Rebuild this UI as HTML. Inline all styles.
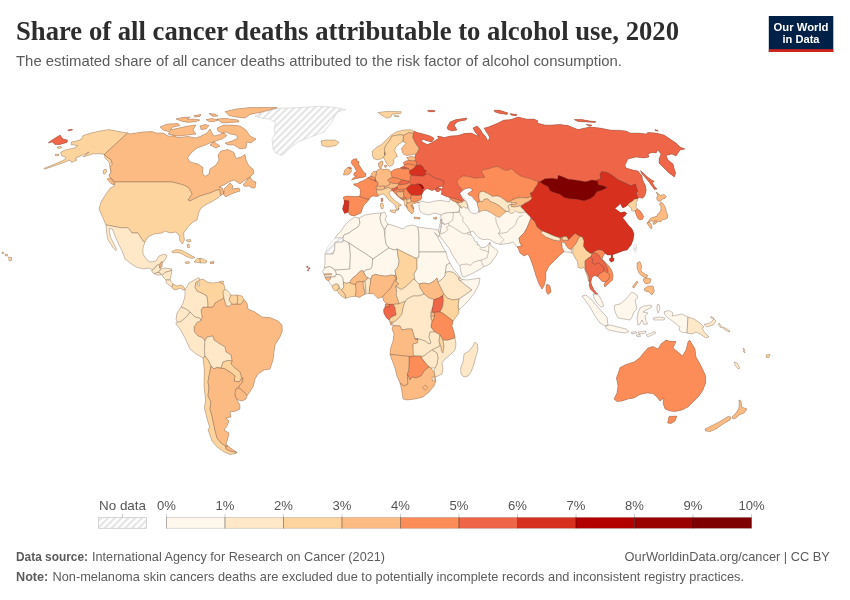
<!DOCTYPE html>
<html lang="en">
<head>
<meta charset="utf-8">
<title>Share of all cancer deaths attributable to alcohol use, 2020</title>
<style>
html,body{margin:0;padding:0;background:#fff;}
body{width:850px;height:600px;overflow:hidden;font-family:"Liberation Sans",sans-serif;}
svg{display:block;}
.title{font-family:"Liberation Serif",serif;font-weight:bold;font-size:26.6px;fill:#2d2d2d;}
.sub{font-family:"Liberation Sans",sans-serif;font-size:14.3px;fill:#5b5b5b;}
.logo{font-family:"Liberation Sans",sans-serif;font-weight:bold;font-size:11.5px;fill:#fff;text-anchor:middle;}
.lg{font-family:"Liberation Sans",sans-serif;font-size:13.1px;fill:#555;text-anchor:middle;}
.ft{font-family:"Liberation Sans",sans-serif;font-size:12.6px;fill:#5b5b5b;}
.b{font-weight:bold;}
.c{stroke:#5a4a42;stroke-width:0.45;stroke-linejoin:round;stroke-opacity:0.7;}
.n{stroke:#cfcfcf;stroke-width:0.6;stroke-linejoin:round;}
</style>
</head>
<body>
<svg width="850" height="600" viewBox="0 0 850 600">
<defs>
<pattern id="hatch" patternUnits="userSpaceOnUse" width="4.8" height="4.8" patternTransform="rotate(45)">
<rect width="4.8" height="4.8" fill="#fff"/>
<rect x="0" y="0" width="2.2" height="4.8" fill="#e4e4e4"/>
</pattern>
</defs>
<rect width="850" height="600" fill="#fff"/>
<text class="title" x="16" y="40" textLength="663" lengthAdjust="spacingAndGlyphs">Share of all cancer deaths attributable to alcohol use, 2020</text>
<text class="sub" x="16" y="65.8" textLength="606" lengthAdjust="spacingAndGlyphs">The estimated share of all cancer deaths attributed to the risk factor of alcohol consumption.</text>
<g id="logo">
<rect x="768.8" y="16" width="64.5" height="36" fill="#002147"/>
<rect x="768.8" y="49.2" width="64.5" height="2.8" fill="#ce261e"/>
<text class="logo" x="801" y="30.5" textLength="55" lengthAdjust="spacingAndGlyphs">Our World</text>
<text class="logo" x="801" y="43" textLength="37" lengthAdjust="spacingAndGlyphs">in Data</text>
</g>
<g id="map">
<g id="base">
<path fill="#ef6548" fill-rule="evenodd" d="M55,144.4 60,144.4 67,142.4 67.6,140 63,139 60,135 52,140 48,143 52.4,142Z"/>
<path fill="#ef6548" fill-rule="evenodd" d="M72.6,130 72,129.2 67.6,130 69,130.8Z"/>
<path fill="#fdd49e" fill-rule="evenodd" d="M115.4,183.6 115.9,183.3 114.4,166.8 113.2,163.7 111.7,159.1 107.5,156.4 105.6,154.4 128.4,133.3 127.6,133 119,131.6 109,129.6 100,131 91,133 83,135.6 81.6,139 78,140.6 71.6,142 71,144.4 77.2,145.5 77.3,145.8 74.4,148 65,150 60.6,152.4 61.6,155.6 66,157.6 65,159.4 60,161.8 44,168.4 44.4,169.2 54,166 64,162.4 70,160 71.6,162.4 77,160 75,158.4 84.8,154.1 85.4,155 83,157 92.4,154 99,153.6 104.4,154.4 105,158 109,162 111,172 109,176 110.8,177.8 109.9,178Z"/>
<path fill="#fdd49e" fill-rule="evenodd" d="M61,146.4 57,147 58,148.4 61.6,148Z"/>
<path fill="#fdd49e" fill-rule="evenodd" d="M59,154 55,154.4 55.6,155.8 59,155.4Z"/>
<path fill="#fdd49e" fill-rule="evenodd" d="M103,173 104.4,174.4 107,171 106,169 103.6,170Z"/>
<path fill="#fdbb84" fill-rule="evenodd" d="M110.3,160.1 111.5,163.8 109.8,166 111,172 109,176 110.8,177.8 109.9,178 114.7,182.8 171.9,182.8 179.8,184.8 184.7,186.3 188.4,188.6 191.1,193.9 186.8,200.3 190,201.9 200.3,196.7 210.3,193.8 216.2,191.2 218.9,190.6 219.7,196.3 220.4,195.6 223.5,193.9 225.6,197 229,195 234,193 240,191 239,188 232,189 233,186 230,183 224,189 224,190.3 222.9,190.4 222.4,188 219.8,187.2 219.7,186.7 224,185 229,182 234,180 240,184 245,180 246.6,179 247.2,179.6 250.5,177.6 250,177 254,173 253,169 249,166 246,160 245,154.4 241,157 236,158.4 234,152.4 228,149.6 221,151 218,155 219,160 216,165 210,169 209,174 205,176.4 202.4,173 203,167.6 198,164 190,162 187.6,158 191,153 197,148 204,145.6 210,143 211.9,142.4 212.3,143.1 214.5,142.3 213.8,141.9 213.9,141.7 222,139 227,135.6 223.7,132.7 224.5,132.4 224.2,132.1 221.8,132.9 222.4,133.2 222.4,133.5 218,135 214,136 212,133 210,129 207,133 201,136 196,138 188,136.4 179,137.6 175.8,136.8 176,136 173.1,135.2 172.3,135.2 172.3,136 168,136 163,133 156,133 152,131.6 142,132 130,134 127.6,133 126.6,132.8 103.4,154.2 104.4,154.4 104.6,155.8 106.5,157.6Z"/>
<path fill="#fdbb84" fill-rule="evenodd" d="M172.3,135.7 175.9,136.3 176.1,135.5 179,136 196,134 193,130 196,125 188,126 171.1,129.8 170.8,129.2 173,127 180,125.6 178,123.6 167,124 160,127 163,130 170,132 168,134 172.4,134.9Z"/>
<path fill="#fdbb84" fill-rule="evenodd" d="M188,122.4 196,121.6 200,120 194,119 188.1,119 187.9,118.4 190,117 182,117.6 176,119 181,121Z"/>
<path fill="#fdbb84" fill-rule="evenodd" d="M201,114.4 194,115.6 195,117 200,116.4Z"/>
<path fill="#fdbb84" fill-rule="evenodd" d="M218,116 215,114 209,113.6 213,116.4Z"/>
<path fill="#fdbb84" fill-rule="evenodd" d="M219.6,120.2 219.6,119.6 217.3,119 216.2,119.1 216.1,119.5 212,118.4 206,119.6 209,121.6 214,121.6 218.2,119.9 218.9,120.5Z"/>
<path fill="#fdbb84" fill-rule="evenodd" d="M259.9,113.2 270.2,110.8 277.8,108.2 277.7,107.6 250,107.6 236,109 225,111.6 229,115.6 236,117 245,118 250,114.4 259.6,112.5Z"/>
<path fill="#fdbb84" fill-rule="evenodd" d="M217.3,120.3 218.2,119.9 222,123 230,122.4 239,122 238,120 225,118.4 216.2,119.1 216.2,119.4Z"/>
<path fill="#fdbb84" fill-rule="evenodd" d="M201,129.6 206,129 209,125.6 205,124.4 200,126Z"/>
<path fill="#fdbb84" fill-rule="evenodd" d="M221.9,133.8 224.3,133.3 223.7,132.6 226,132 230,134 236,135 238,138 232,141 225,143 228,145 234,145 240,149 246,148 247,142 251,143 256,139 250,136 246,130 240,126 232,125 224,125 217,128 218,131 222.4,133.2 222.4,133.5 221.7,133.8Z"/>
<path fill="#fdbb84" fill-rule="evenodd" d="M214,141 212,142.5 212.4,143.2 210,145 216,148 220,146 213.8,141.9 213.9,141.7 214.6,141.5Z"/>
<path fill="#fdbb84" fill-rule="evenodd" d="M250.1,175.8 246.7,179.1 247.2,179.7 243,185 245,186.4 249,186 252,188 255,188 256,182 253,181 250,177 250.6,176.4Z"/>
<path fill="#fdbb84" fill-rule="evenodd" d="M114.9,186.3 114.9,185.7 114.3,186ZM114.4,181.6 110.2,177.1 110.1,177.1 110.8,177.8 107,179 111,183.6 114.9,185.4Z"/>
<path fill="#fdd49e" fill-rule="evenodd" d="M113.8,184.9 115,185.5 115,185.7 110.4,188 106,194 101,202 99,209 106,225 106.1,225.8 121.9,228.8 127.6,228.4 131.6,233.8 137.6,233.8 142.4,241.6 144.7,242.8 145,242 148,237 154,234 162,233 165,231 170,233 176,232 179,235 180,241 182.4,244 184.4,240 183.6,233 188,227 193,222 197,220 199,212 201,208 207,204 212,201.6 218,198 220.4,195.6 221.2,195.2 220.3,188.6 215.8,189.6 209.7,192.2 199.7,195.3 190,200.1 189.2,199.7 192.9,194.1 189.6,187.4 185.3,184.9 180.2,183.2 172.1,181.2 114.3,181.2Z"/>
<path fill="#fee8c8" fill-rule="evenodd" d="M155.6,268.6 157.4,265.8 160.3,265.8 162.2,263.9 162.3,262.7 165,260 167,255.6 164,254 159,256 156,261 150,262 146,259 143,254 143,248 145,242 145.4,241.3 143.6,240.4 138.4,232.2 132.4,232.2 128.4,226.8 122.1,227.2 105.6,224.1 106,225 106.8,234 107.6,239 113.6,248.4 116,250.6 116.6,249.2 110.4,237 109.4,230 109.6,228.4 112.4,229 115.2,236.4 118.4,243.6 122,251 125,259 130,263 136,267 143,269 149,268 152,270 152,271Z"/>
<path fill="#fee8c8" fill-rule="evenodd" d="M158.4,273.1 162.2,268.9 162,268.7 161,269 159.6,268 160.5,267.6 160.9,264.2 156.6,264.2 154.4,267.4 151.3,269.5 152,270 152,272 154,273.6 155.1,274.1Z"/>
<path fill="#fdbb84" fill-rule="evenodd" d="M159.2,264.9 158.6,269.3 160.4,268.5 159.6,268 162,267 162.3,262.7 163.2,261.8 163.3,260.3 159.2,262.5Z"/>
<path fill="#fee8c8" fill-rule="evenodd" d="M156.6,272.8 159.6,273.7 161.2,275 162.4,275 162.7,275.9 165.4,273.1 170.4,271.7 172,270.2 172.2,269 165,268 161,269 160.3,268.5Z"/>
<path fill="#fee8c8" fill-rule="evenodd" d="M160.6,272.3 158,271.6 153.2,273 154,273.6 157,275 161.9,275Z"/>
<path fill="#fee8c8" fill-rule="evenodd" d="M161.6,275 162.4,275 163,277 166,280 166,280.8 170.6,280.8 170,280 171,276 172.2,269 169.7,270.3 164.6,271.7 161.5,274.8Z"/>
<path fill="#fee8c8" fill-rule="evenodd" d="M173.7,284.4 173,284 170,280 170.2,279.2 165.2,279.2 166,280 166,282.4 169,285 172,287 172.5,288Z"/>
<path fill="#fdd49e" fill-rule="evenodd" d="M186.1,290.8 185.5,289.1 185.2,289.7 184.9,289.7 184,287 181,285 177,286 173,284 172.4,283.2 171.3,286.5 172,287 173,289 175,290 181,288 183,290 185,290 185,290.8Z"/>
<path fill="#fdd49e" fill-rule="evenodd" d="M171.6,251.6 173,253 178,252.4 183,254.4 187,257 192,258.4 195,257.6 187,253 181,250 176,249.6Z"/>
<path fill="#fdd49e" fill-rule="evenodd" d="M200.8,258.4 197,258.4 194,262 198,262.4 200.4,263 201.2,263Z"/>
<path fill="#fdd49e" fill-rule="evenodd" d="M199.6,262.8 200.4,263 206,263 207,261 202,258.4 199.2,258.4Z"/>
<path fill="#fdd49e" fill-rule="evenodd" d="M189.6,263.2 189,261.6 185,262 186,263.6Z"/>
<path fill="#fdbb84" fill-rule="evenodd" d="M214,261.6 210,262 210.4,263.4 213.6,263.4Z"/>
<path fill="#fdd49e" fill-rule="evenodd" d="M11.5,260.5 11.5,257.5 8.5,257 9,260.5Z"/>
<path fill="#fdd49e" fill-rule="evenodd" d="M7.5,256 7.5,254.5 5,254 5.5,256Z"/>
<path fill="#fdd49e" fill-rule="evenodd" d="M3.5,253.5 3.5,252.5 2,252 2,253.5Z"/>
<path fill="#fdd49e" fill-rule="evenodd" d="M191,241.5 190.5,239.5 186,240 188,242Z"/>
<path fill="#fdd49e" fill-rule="evenodd" d="M189,244 187,244.5 187.5,247.5 189.5,247.5Z"/>
<path fill="#fdd49e" fill-rule="evenodd" d="M219.4,284.8 223.7,284.6 223.7,284.3 223,283.9 223.5,281 219.5,281.5 219.6,281.9 218.8,282Z"/>
<path fill="#fdbb84" fill-rule="evenodd" d="M196.4,321.8 193.2,326.8 193.6,332.3 197.5,336.7 202.5,338.7 205.1,342.6 207.5,337.7 212.4,336.9 213.3,340.5 219.6,344.7 224.3,347.5 225.3,352.5 230.3,355.5 231.2,360.9 230.1,364.2 234.5,368.6 239.3,372.5 241,378.8 242.1,378.8 241.6,381.7 238.2,385.7 238.2,388.4 243.4,392.6 246.7,396.5 247,395.6 249,393 253,387 254.4,382 255,379 258,374 264,370 270,369 273,360 275,345 280,337 282.4,331 282,325 278,321 270,317.6 262,317 255,312 248,309 247,303 244,299.6 243.6,298.8 240.6,303.2 231.7,303.2 228.8,305.5 226.7,304.9 224.5,296.8 219.6,299.3 214.4,302.4 212.5,306.2 202.6,306.2 200.2,309.8 201.2,316.9 200.3,319.8Z"/>
<path fill="#fee8c8" fill-rule="evenodd" d="M184.2,290 185,290 185,296 183,303 180.5,307.7 185.6,309.7 189.5,312.6 194.6,317.7 199.1,318.7 201,322 201.4,322 202.8,317.1 201.8,310.2 203.4,307.8 208.8,307.8 208.8,304 207.7,295.5 203.4,292.9 197.6,290.4 195.8,286.9 196.7,282.9 201,280.3 200.8,279.7 200,280 199,277.6 195,279.6 189,283 185.2,289.7 184.9,289.7 184.7,289Z"/>
<path fill="#fdd49e" fill-rule="evenodd" d="M194.2,287.1 196.4,291.6 202.6,294.3 206.3,296.5 207.2,304 207.2,307.8 213.5,307.8 215.6,303.6 220.4,300.7 224.9,298.5 223.8,292.2 225.7,289.4 225,289 224,284.4 223,283.9 223.1,283.1 219.7,281.5 219.5,281.5 219.6,281.9 214,283 208,282.4 203,279 200,280 199.7,279.3 195.3,281.9ZM199.3,282.8 199.8,285.5 198.2,286 197.5,283.2Z"/>
<path fill="#fee8c8" fill-rule="evenodd" d="M222.2,291.8 223.2,298.2 225.3,306.3 229.2,307.3 233.1,304.1 229.9,299.9 231.9,295 231,295 228,291 225,289 224.8,287.9Z"/>
<path fill="#fdd49e" fill-rule="evenodd" d="M228.1,300.1 231.6,304.8 237.7,304.8 238.8,299 237.9,295.2 237,295 231,295 230.4,294.3Z"/>
<path fill="#fdd49e" fill-rule="evenodd" d="M237.2,299 236,304.8 241.4,304.8 244.5,300.2 244,299.6 242,296 237,295 236.2,295Z"/>
<path fill="#fee8c8" fill-rule="evenodd" d="M177.7,323.3 181.4,322.3 184.5,319.6 188.6,315.5 191.1,311.8 186.4,308.3 181.4,306.3 177,313 176,320 177.8,322.1 176.8,322.3Z"/>
<path fill="#fee8c8" fill-rule="evenodd" d="M203.1,359 205.8,356.3 205.2,350 205.8,340.8 203.5,337.3 198.5,335.3 195.2,331.7 194.8,327.2 197.6,323 202.1,320.7 200.1,317.3 195.4,316.3 189.9,310.7 187.4,314.5 183.5,318.4 180.6,320.8 177.2,321.4 177.7,322.1 176,322.4 176,324 180,329 185,338 190,349 196,354 203,358Z"/>
<path fill="#fee8c8" fill-rule="evenodd" d="M203.6,350 204.2,356.3 207.3,360.4 210.3,366.5 213.9,370 217.1,367.9 221.5,369 223.6,362.6 228.1,361.2 233,362 231.7,354.5 226.7,351.5 225.7,346.5 220.4,343.3 214.7,339.5 213.6,335.1 206.5,336.3 204.2,340.8Z"/>
<path fill="#fdd49e" fill-rule="evenodd" d="M219.9,369.2 223.8,369.2 229.5,372.7 234.1,376.3 233.1,381.6 239.4,382.9 242.5,378.1 240.7,371.5 235.5,367.4 231.9,363.8 233.1,360.4 227.9,359.6 222.4,361.4Z"/>
<path fill="#fdd49e" fill-rule="evenodd" d="M230.3,450.2 226.7,448.4 225.7,445.1 221.5,442.4 217.7,437.6 215.8,429.8 212.8,415.8 210.8,408.9 211.8,401.9 208.8,395.9 209.8,388 208.8,382 209.8,376.1 211.8,365.9 208.7,359.6 205.1,354.8 202.3,357.6 203,358 204.4,370 204,386 205.6,400 204.4,408 208,422 209.6,427 208,430 209.6,434 212,441 217,447 224,452 230,454.4 236,453.6 237,452.4 235.3,451.2Z"/>
<path fill="#fdbb84" fill-rule="evenodd" d="M208.2,375.9 207.2,382 208.2,388 207.2,396.1 210.2,402.1 209.2,409.1 211.2,416.2 214.2,430.2 216.3,438.4 220.5,443.6 224.7,446.4 228.9,446.9 226,444 228,438 229,433 224,430 227,426 229,421 226.1,418.1 231,417 230,412 236,411 240,409 240,405 237.1,400.1 237.3,399.8 237.9,400 235.8,394.9 236.7,389.4 239.6,386.5 243.2,382.3 244,376.7 243.4,376.4 238.7,381.1 234.9,380.4 235.9,375.7 230.5,371.3 224.2,367.6 221.1,367.6 216.9,366.8 214.2,368 210.6,364.5Z"/>
<path fill="#fdbb84" fill-rule="evenodd" d="M225.2,449.5 229.7,451.8 236.4,453.1 237,452.4 228.5,446.6 227.7,445.7 225.2,444.9Z"/>
<path fill="#fdbb84" fill-rule="evenodd" d="M234.2,393 234.8,397.3 237.1,400.1 237.3,399.8 242,401 246,399 247,395.6 247.5,395 244.6,391.4 239.2,387.1 235.3,388.4Z"/>
<path fill="#fdd49e" fill-rule="evenodd" d="M339,142.4 335,140 326,140 321,141 322,145.6 328,147 336,145.6Z"/>
<path fill="#fff7ec" fill-rule="evenodd" d="M343.6,238.8 344.6,235.6 349.4,233.7 353.4,230.7 358.6,227.6 360.8,223.1 359.7,217.6 359,218 355,217 350,220 345,225 341,231 337,235 334.4,238.8Z"/>
<path fill="#fff7ec" fill-rule="evenodd" d="M359.2,222.9 357.4,226.4 352.6,229.3 348.6,232.3 343.4,234.4 342.2,237.9 342.2,240.5 348.6,243.7 357.6,249.7 365.6,254.7 373,260 390.1,248.2 386.8,243.7 384.8,228.8 381.8,222.7 380.8,218 381.8,212.9 373,213.6 365,215 359,218 358.1,217.8Z"/>
<path fill="#fff7ec" fill-rule="evenodd" d="M379.2,218 380.2,223.3 383.5,229.8 385.5,229.8 388.8,224.2 388,224 385,220 386.6,216 385,212.4 380.2,213.1Z"/>
<path fill="#fff7ec" fill-rule="evenodd" d="M384.2,237.1 385.2,244.3 388.5,248.7 394,250.9 396.9,249.9 414.9,258.8 419.8,257.6 419.8,236 418.8,227.1 418,227 413,225 407,226 403,229 395,226 388,224 387.5,223.3 384.2,228.8Z"/>
<path fill="#fff7ec" fill-rule="evenodd" d="M418.2,236 418.2,252.8 446.2,252.8 446,252 443,247.5 437.3,236.5 437.9,236 439,236.8 439.2,235.8 439.4,235.8 439.9,236.4 440.4,233.7 439,229.5 438.7,229.4 438.5,230.2 433,229 418,227 417.2,226.7Z"/>
<path fill="#fff7ec" fill-rule="evenodd" d="M329.1,267.4 332.9,269.2 335.4,270.9 350.6,269.8 351.2,255 350.8,249.9 349.7,242.5 342.2,238.7 342.2,241.2 334.2,241.6 333.8,249.8 332.5,253.2 325.3,253.2 325,254 325,262 324.5,267.9 324,268.9Z"/>
<path fill="#fff7ec" fill-rule="evenodd" d="M349.2,250.1 349.6,255 349,268.4 334.8,269.4 334.8,271.6 335.5,275.1 340,275.7 341.9,278.2 342.5,282.2 342.5,283.3 346.8,284 350.3,283.3 351.6,280.7 353.8,278 357.3,275.6 359.7,272.7 361.6,271.4 364.9,272.5 365.6,271 370.9,269.8 372.9,267.1 373.5,259.7 374.6,259.3 374.6,259.2 366.4,253.3 358.4,248.3 348.3,241.6 348,241.7Z"/>
<path fill="#fff7ec" fill-rule="evenodd" d="M371.9,258.5 371.3,266.5 369.9,268.4 364.6,269.6 363,272.6 365,276.7 367.6,278.6 371.4,280.2 372.7,276.2 375.6,275.2 380.3,276.4 386.3,277 390.9,275.8 394.8,276.5 396.4,274.7 395.9,270.5 398.7,267.2 400,260.9 398.8,255.8 397.7,247.9 394,249.1 388.9,247.1 372.6,258.3Z"/>
<path fill="#fdd49e" fill-rule="evenodd" d="M397.2,256.2 398.4,260.9 397.3,266.4 394.3,270.1 394.8,274.6 396,278.5 394.6,281.8 397.3,283.8 394.2,286.3 401.5,290.7 406.7,286.8 411.5,282.7 413.5,280.1 415.9,281.4 416,281.2 414.8,274.2 417.8,269.2 417.8,258.5 396.1,247.7Z"/>
<path fill="#fff7ec" fill-rule="evenodd" d="M418.2,256.7 416.2,258.7 416.2,268.8 413.2,273.8 414.3,280.4 418.7,284.9 424,283.8 429.1,284.8 434.5,281.6 436.6,279.6 437.5,283.3 441.5,280.6 445.8,276.4 447.2,265.5 450.4,263.7 447.5,258 446,252 445.5,251.2 418.2,251.2Z"/>
<path fill="#fdbb84" fill-rule="evenodd" d="M419.3,288.3 423.4,294.5 428.6,298.7 434,300.4 439.4,298.7 445,294.2 438.8,281.7 437.4,276.5 433.5,280.4 428.9,283.2 424,282.2 418,283.4Z"/>
<path fill="#fee8c8" fill-rule="evenodd" d="M444.2,275.6 440.5,279.4 437,281.7 443.3,294.4 446.5,298.7 452.9,300.8 459.3,299.8 465.5,295.7 473.3,290 459.8,279.6 459.8,277.7 456.6,273.9 453.3,271.2 449,270.7 444.8,271.3Z"/>
<path fill="#fff7ec" fill-rule="evenodd" d="M445.8,264.5 444.6,272.9 449,272.3 452.7,272.8 455.4,275.1 458.6,278.8 461.3,278.8 460.5,278 458.5,275 455,271 452,267 449.6,262.3Z"/>
<path fill="#fee8c8" fill-rule="evenodd" d="M458.2,280.4 460.6,282 463,279.6 462,279.5 460.5,278 460,277.2 458.2,277.2Z"/>
<path fill="#fff7ec" fill-rule="evenodd" d="M470.7,290 464.5,294.3 458.3,298.5 457.2,304 458.4,311.5 458.8,311.4 458.6,310.4 469,300 475,292 479,284 480,278 467,280 462,279.5 461.4,278.9 459.3,281.1Z"/>
<path fill="#fff7ec" fill-rule="evenodd" d="M330.9,277.6 335.6,277.6 337,274.5 336.3,271.2 333.8,267.9 329.3,265.6 324.6,267 324.5,267.9 322.7,271.5 325.3,277.9Z"/>
<path fill="#fdbb84" fill-rule="evenodd" d="M323.7,273.9 324.6,276 333,275.5 332.1,272.8 323.7,273Z"/>
<path fill="#fdbb84" fill-rule="evenodd" d="M331.1,279.5 331.9,276.1 324.9,276.6 326.2,279.7 328.6,280.9 329,281.6Z"/>
<path fill="#fff7ec" fill-rule="evenodd" d="M334.3,285.7 336.2,284.7 337.9,285.6 339.1,288.9 341.6,291.6 344.7,287 343.5,277.6 340.8,274.3 335.7,273.5 334.6,276 330.3,276.2 329.7,278.7 327.8,280.5 328.6,280.9 329.8,283.2 332.1,286.2 332.3,287Z"/>
<path fill="#fdd49e" fill-rule="evenodd" d="M337.7,291 340.1,288.1 339.3,284.5 336.2,282.9 333.5,284.3 331.6,285.6 332.1,286.2 332.7,288.5 335.1,290.9 337.4,290.3Z"/>
<path fill="#fdd49e" fill-rule="evenodd" d="M336.6,290.5 337.4,290.3 338.6,293.2 341.5,296.2 345.6,298.5 345.6,298.3 346.4,298.1 346.4,295.4 344.5,292.1 339.1,286.7 336.5,290.2Z"/>
<path fill="#fdd49e" fill-rule="evenodd" d="M340.5,290.4 343.3,293.1 344.8,295.8 344.8,298.1 345.6,298.5 345.6,298.3 350.9,296.8 355.6,296.2 356.4,296.5 357,290.3 356.3,283.7 352.4,283 349.9,281.8 346.8,282.4 342.4,281.6 343.1,286.6Z"/>
<path fill="#fdbb84" fill-rule="evenodd" d="M348.7,283 351.8,284.6 356,285.3 357.3,282.9 363.6,282.3 366.7,280.3 369.2,277.8 366.2,275.7 364.6,272.1 361.6,269.5 358.7,271.5 356.3,274.4 352.8,276.8 350.2,279.9Z"/>
<path fill="#fdbb84" fill-rule="evenodd" d="M355.4,290.3 354.8,296.3 355.6,296.2 359.2,297.4 364.5,294.4 365.3,294.1 365.3,290.2 364.1,285.5 364.1,280.6 356.3,281.3 354.8,284.2Z"/>
<path fill="#fee8c8" fill-rule="evenodd" d="M362.5,285.7 363.7,290.4 363.7,294.9 366.2,293.8 367,293.7 365.8,280.7 362.5,280.7Z"/>
<path fill="#fee8c8" fill-rule="evenodd" d="M365.4,294.1 366.2,293.8 370,293.6 370.3,288.6 371.2,283.9 371.8,278.6 367.8,277 365.6,279.2 364.3,281.3Z"/>
<path fill="#fdbb84" fill-rule="evenodd" d="M369.6,283.7 368.7,288.4 368.4,293.7 373.3,293.6 378,298.5 382.7,296.8 382.8,297.6 383.2,297.5 385.7,294.3 391.6,288.4 394,283.6 397.1,278.5 395,274.9 390.9,274.2 386.1,275.4 380.5,274.8 375.6,273.6 371.5,275 370.1,278.9Z"/>
<path fill="#fdbb84" fill-rule="evenodd" d="M395.3,278.5 392.6,282.8 390.2,287.4 384.5,293.3 381.9,296.6 381.9,297.1 382.7,296.8 383.3,300.3 386.4,304.3 389.4,305.2 393.3,305.2 400.2,304.5 398.8,299.4 397,294.9 397.6,290.2 396.5,286.5 399.9,283.8 396.6,281.2 397.6,278.5 395.9,272.8 393.5,275.5Z"/>
<path fill="#fee8c8" fill-rule="evenodd" d="M395.4,295.1 397.2,300 398.7,304.9 403,302.9 406.1,302.2 407.6,299.6 413.2,296.8 419.2,296.8 425.2,294.4 420.7,287.7 419.7,283.6 415.5,279.3 413.1,278.1 410.3,281.5 405.7,285.6 401.5,288.7 394.8,284.8 394.4,285.1 396,290.4Z"/>
<path fill="#fc8d59" fill-rule="evenodd" d="M389.9,307.6 390.4,303.6 385.9,303.6 386.4,304.2 386.3,304.4 385.1,304.4 385.1,307 384.6,307.8Z"/>
<path fill="#ef6548" fill-rule="evenodd" d="M391.5,318 397.1,315.5 395.9,307.1 393.8,303.6 388.8,303.6 388.5,306 385.1,306.2 385.1,307 383.6,309.7 383.9,313.2 386.2,317.4 389.2,320.3 389.6,321.2Z"/>
<path fill="#fdd49e" fill-rule="evenodd" d="M394.3,307.7 395.3,314.5 390.3,316.8 388.6,319.7 389.2,320.3 390,322 390.1,322.8 394.3,322.8 398.6,319.6 402.8,314.3 403.8,308.2 405.7,302.5 407.2,301.2 406.9,300.4 402.4,301.3 399,303 392,303.7Z"/>
<path fill="#fee8c8" fill-rule="evenodd" d="M404.3,301.6 402.2,307.8 401.2,313.7 397.4,318.4 393.6,321.3 391,322.6 391.6,324.3 391.8,323.9 392.3,323.8 393,325.6 392.8,326.4 399.5,326.8 401.6,330.9 407.1,329.8 411.4,329.8 412.2,333.2 414.4,339.8 418.9,339.8 424.6,341.7 428.9,344.9 432,343.4 429.8,336.9 430.7,332.8 436.4,332.8 436.5,332.6 431.9,326.8 432.8,322 431.4,316.9 431.8,312.2 433.8,306.2 434.9,299 429.4,297.3 424.1,293.1 418.8,295.2 412.8,295.2 406.4,298.4 405,300.9Z"/>
<path fill="#ef6548" fill-rule="evenodd" d="M431.1,313.2 440.5,312.8 443.4,307.2 444.2,301 443.7,294.2 438.7,297.3 433.3,299Z"/>
<path fill="#fdd49e" fill-rule="evenodd" d="M441.8,306.8 438.9,312.4 442.2,313.7 452.8,321.9 453,321 459,313 458.6,310.4 459.3,309.7 458.8,306 459.9,298 453.1,299.2 447.5,297.3 443.9,292.6 442.2,295.4 442.6,301Z"/>
<path fill="#fdbb84" fill-rule="evenodd" d="M430.7,317.3 435.5,316.7 434.7,311.6 430.1,311.6Z"/>
<path fill="#fdd49e" fill-rule="evenodd" d="M430.8,320.8 434,320.8 435.7,315.1 430.6,315.7Z"/>
<path fill="#fc8d59" fill-rule="evenodd" d="M433.8,315.9 432.7,319.6 431.2,321.7 430.1,327.2 434.5,332.6 439.4,335.6 442.5,340.8 447.1,341.2 455.1,338.8 454,332 452,326 453,321 453.5,320.4 443,312.3 440.1,311.2 433.1,311.7Z"/>
<path fill="#fdbb84" fill-rule="evenodd" d="M390.3,355.2 409,357.2 416.5,356.7 416.6,356.1 414.2,354.5 413.8,344.6 418.1,343.7 418.9,338.2 415.6,338.2 413.8,332.8 412.6,328.2 406.9,328.2 402.4,329.1 400.5,325.2 392.7,324.8 393,325.6 392,329 394,334 393,341 390.6,348 390,354.4Z"/>
<path fill="#fdbb84" fill-rule="evenodd" d="M392.9,322.6 389.4,320.8 390,322 390.2,324.4 391.4,325.2 391.8,323.9 392.3,323.8 392.5,324.3Z"/>
<path fill="#fee8c8" fill-rule="evenodd" d="M412.2,343.4 412.6,355.5 414.8,356.8 424.3,356.8 429.5,352.6 432.4,350.7 440.9,346.4 439.8,341 440.9,334.6 435.2,331.2 429.3,331.2 428.2,337.1 430,342.6 429.1,343.1 425.4,340.3 419.1,338.2 415,338.2 414.6,338.3 414.2,338.8 414.2,339.2 414.5,339.6 414.9,339.8 417.1,339.8 416.7,342.3Z"/>
<path fill="#fdd49e" fill-rule="evenodd" d="M438.2,341.1 440.2,347.2 440.6,351.3 443.2,354.6 443.6,354.5 444.8,346 443.8,339.7 440,333.4 439.4,333.5Z"/>
<path fill="#fee8c8" fill-rule="evenodd" d="M442,339.1 443.2,346 442.5,351.1 442.2,350.7 441.8,346.6 440.2,345 430.4,349.9 436.3,353.5 437.2,358 436.2,363.7 434.2,368 435,368 434.1,371.8 433.8,371.8 433.4,371.2 433.2,372 434.4,378 435.2,377.8 435,377 438,376 442,374 443,369 442,363 445,359 450,355 455,350 456,344 454.9,337.2 446.9,339.6Z"/>
<path fill="#fee8c8" fill-rule="evenodd" d="M419.8,356.6 422.4,360.5 426.4,365.6 430.7,368.8 431.6,368.8 431.1,368.1 431.2,368 435,368 434.8,368.8 435.5,368.8 437.8,364.3 438.8,358 437.7,352.5 432,349.1 428.5,351.4 423.6,355.3Z"/>
<path fill="#fc8d59" fill-rule="evenodd" d="M408.2,364 407.8,369.9 406.5,374 409.8,381.6 412.4,377.9 416.1,378.8 421.5,376.7 425.6,370.6 430.2,367.1 427.6,364.5 423.6,359.5 421.5,356.4 419.2,355.2 414.9,355.2 411,356.2 408.2,355.3Z"/>
<path fill="#fdbb84" fill-rule="evenodd" d="M403.9,386.9 408.8,384.5 408.2,374.1 409.4,370.1 409.8,364 409.8,355.7 390.1,353.6 390,354.4 395,368 397,376 400,383 400.3,384.2Z"/>
<path fill="#fdbb84" fill-rule="evenodd" d="M434.7,371.7 434.2,371 434.1,371.8 433.8,371.8 431.1,368.1 431.2,368 432,368 431.5,367.4 428.9,366.1 424.4,369.4 420.5,375.3 415.9,377.2 411.6,376.1 410.1,378.3 407.5,372.3 406.5,372.6 407.2,383.5 404.1,385.1 399.4,381.5 400,383 401,387 402,392 403,399 407,400 415,399 423,397 429,392 434,386 436,381 435,377 435.8,376.7Z"/>
<path fill="#fdbb84" fill-rule="evenodd" d="M421.3,388.1 425.5,391.5 429.1,387.3 424.9,383.9Z"/>
<path fill="#fee8c8" fill-rule="evenodd" d="M431.9,381.8 435.7,381.8 435.8,381.4 435.7,379.7 435,377 435.4,376.9 435.3,376.2 431.1,376.2Z"/>
<path fill="#fee8c8" fill-rule="evenodd" d="M476,356 478,350 477.4,344 475,342 473,346 469,351 464,354 463,362 460.6,368 461,374 464,377 468,376 471,372 474,364Z"/>
<path fill="#ef6548" fill-rule="evenodd" d="M308.8,268.2 308.8,267.8 308.6,267.8 308.6,268.2ZM308,266.3 306.8,266.3 306.8,267.4 308,267.4Z"/>
<path fill="#ef6548" fill-rule="evenodd" d="M307.8,267.4 308,267.4 308,267 307.8,267ZM308.7,269.7 308.7,268.9 309.8,268.9 309.8,267.8 308.6,267.8Z"/>
<path fill="#ef6548" fill-rule="evenodd" d="M308.6,269 308.6,269.8 307.5,269.8 307.5,270.8 308.7,270.8Z"/>
<path fill="#fff7ec" fill-rule="evenodd" d="M440.1,214.7 440.9,215 440.9,218.5 440.3,223.2 438.5,230.2 437.7,230.1 437.7,230.3 438.9,234 439.1,236.1 439.2,235.8 439.4,235.8 449.6,249 451.6,253.5 457.2,262.5 460,266 460.5,270 461.5,274 462.5,276.5 464,277 469,275 475,272 480.5,269 483.5,266.5 487,265.5 491,263 493.5,259 496,256 498,251.5 495,248.5 491,246 490,242.5 489.7,242.4 487.4,245.6 484.4,247.5 480.3,247.2 478.9,244.6 477.2,244.9 477.2,241.8 475.1,241.8 473.5,238.3 470.9,234.6 470.3,232.1 472.9,231 478.2,237.4 482.6,239.7 487.4,239.2 490.5,240.1 495.6,243.2 500.3,244.4 501.5,244.4 509.7,243.2 513,242 517.7,247.7 523.3,246.6 520.8,242.7 519.9,238.3 524.6,233.5 527.7,228.4 531.9,218 529.6,212.5 524.2,209.2 519.2,209.5 514.4,208.3 509.5,209.5 500.1,213 495.8,213 491.2,210.8 483.9,208.3 478.7,209.2 479,209.9 478.7,210 478.2,212.4 475.3,213.9 471.8,212.9 469.4,211.2 468.7,208.9 466.8,207.8 467.6,207.4 466.6,206.7 464.1,205.4 460.1,204.8 457.6,206.4 458.3,210.2 457.4,211.7 453.2,211.3 446.1,211.8 441.8,213.1 440.1,213.9Z"/>
<path fill="#ef6548" fill-rule="evenodd" d="M412.5,133.1 411.8,137.6 414,142.2 416.1,145.7 418,148.3 417.7,149.7 415,154.2 415.7,154.1 415,157 414.2,157 414.7,160.7 415.7,164.1 415.7,166.4 419.8,165.8 421.9,167.1 423.4,170.1 425.2,171.2 424.1,172.3 424.9,175.4 428.8,174.7 431,176.7 435.7,179.3 439.7,180.3 442.8,181.6 443.1,183.7 441,185.8 441.2,186.3 442,186 442.8,187.8 441,189.5 442,192 441,194 445,196 449.5,197.5 450.2,198.5 456.8,200.3 460.7,201.7 463,202.9 465.5,201.6 464.7,200.6 462,198 460,193.5 460.1,193.3 460,193 461.8,191.2 465.3,188.8 468.8,188 471.3,188.7 510,184.8 539,184.8 570,186.8 597.6,184.7 597.6,183.8 597.8,183.8 597.8,180.6 601.9,179.6 600.9,174.2 602.3,172.5 607.7,173.8 612.5,176.7 617.6,180.7 624.7,183.7 631,186.9 635,185.2 636.7,191 635.1,193.2 636.3,196.2 637,199.5 637.3,199.4 637.1,198.6 639.8,197.6 642.5,198.2 644.7,196 646.3,190.6 645.2,185.2 642.5,179.7 641.9,174.9 641.4,175.2 638,171 633,170 626,168 625,165 628,159 636,157 644,158 649,157 648,154 652,152.4 656,153 658,150 661,154 659,159 659,163 669,173 674.4,177 675.6,173 674,168 673,164 668,160 666,155.6 672,154 676,156 680,150 685,149 680,147 676,143 664,135 656,133 648,132.4 646,134 638,133 630,133 626,131 620,130.4 610,130 600,128 590,127 578,129.6 568,125.6 560,124.4 552,125 545,125 537,123 538,121 534,119 526,119 518,117 511,119.6 504,120 498,123 492,125.6 487,127.6 484,128 489,136 489.6,139.6 487,140 486,137 482.4,133 480,129 477,126 473,128 475,132 477.7,135 477.2,135.7 471,133 464,133.6 458,135.6 450,136 444.4,137.5 441.5,136.8 437.3,136.1 438.7,138.2 432.9,141.9 432.1,140.9 433.8,139.6 433.1,137.5 428.8,135.4 417.5,132.6 413.3,130.9ZM427.4,144.6 423.2,142.5 421.1,140.4 423.2,139.6 427.4,141.1 432,142 432,142.6ZM440.1,189.3 440.4,190.1 441,189.5 440.7,188.7Z"/>
<path fill="#ef6548" fill-rule="evenodd" d="M448,129.6 452,131 457,130 454,125 458,121.6 466,120 467,118 456,119.6 450,122 447,127.6Z"/>
<path fill="#ef6548" fill-rule="evenodd" d="M507,114.4 508,113 499,110 494,110.4 495,112 500,113.6Z"/>
<path fill="#ef6548" fill-rule="evenodd" d="M516,116 517,114.4 510,113.6 511,115Z"/>
<path fill="#ef6548" fill-rule="evenodd" d="M578,121.6 595,122.4 596,121.6 590,121 582,119.6 574,119.6Z"/>
<path fill="#ef6548" fill-rule="evenodd" d="M590.1,127.3 590.5,127 589.6,127.1ZM586,124.4 590,126.4 592,125Z"/>
<path fill="#ef6548" fill-rule="evenodd" d="M642.4,174.3 649,181.9 654.4,189.5 657.1,189 654.4,186.2 652.2,182.5 654.4,181.4 651.2,179.7 646.8,176.5 642.5,172.2 640.3,170.5 642.2,174.4Z"/>
<path fill="#ef6548" fill-rule="evenodd" d="M658,130.4 655,129.6 655.2,130.6 657.6,131.2Z"/>
<path fill="#ef6548" fill-rule="evenodd" d="M400.8,169.4 406.9,169.4 407.1,169 404.3,166.3 400.6,167.2 401.2,168.5 400.4,168.5Z"/>
<path fill="#d7301f" fill-rule="evenodd" d="M529.3,217.5 534.3,222.4 536.3,227.5 541.6,231.7 545.7,233.1 553.7,236.7 560.1,238.9 562.3,237.8 566,237.3 568.6,241.2 572.3,237 575.3,234.5 579.5,237.1 581.6,237.7 583.1,241.2 582.5,246.5 585.6,251 588.8,253.4 591.7,254.9 593.7,252.9 598.6,250.6 602.2,251.1 604.5,254 604.9,253.3 607.8,255.1 611.1,255 611.3,257.8 609.6,258.6 609.6,260.6 611.3,262.1 613.6,260.9 614.2,258.6 612.7,257.8 612.5,254.7 624.1,250.4 627,250 631,245 633,240 634,234 632,229 628.4,225.2 625.2,220.9 622.5,217.7 625.2,215.5 626.8,213.3 624.1,211.7 620.8,212.8 617.6,210.6 614.9,208.4 617.6,206.3 620.3,203.6 621.4,205.7 623,207.9 626.2,206.3 627.9,204.7 628.4,205.3 630.5,203.2 632.7,202.1 634.8,199.9 637.3,199.5 637.1,198.6 638.4,198.1 637.9,195.8 636.9,193.4 638.5,191.2 635.4,182.9 631,185.1 625.3,182.3 618.4,179.3 613.5,175.3 608.3,172.2 601.7,170.7 599.1,173.8 600.1,178.4 596.2,179.4 596.2,183.3 570,187.2 539.3,180.8 537.6,180 536.9,183.8 534,187.8 532.3,191.2 529,192.4 530.9,198.5 528.4,200.5 524.9,202.2 521.2,204.7 519.5,207.3 522.9,210 524.7,212.3 529.6,217.2Z"/>
<path fill="#7f0000" fill-rule="evenodd" d="M542.9,184.9 547.7,187.3 549.4,191.4 553.9,193.3 559.6,194.9 563.9,198.2 569.9,199.5 576.6,200 584.3,201.6 590.4,199.4 594.8,196.4 597.2,192.4 602.8,190.7 608.8,187.6 608.8,187.3 603.5,185 599,184 598.2,180.1 591.6,179.2 585.7,180.9 573.4,178.9 568.5,178.4 562.8,176 557.7,174.3 556.9,178.3 552.6,177.5 544.8,177.9 538.6,181.6Z"/>
<path fill="#fc8d59" fill-rule="evenodd" d="M456.8,184.4 458.8,187 461,189.1 461,192 461.8,191.2 465.3,188.8 468.8,188 471.8,188.8 472.1,190.6 467.6,193.5 468.8,195.3 472.4,196.5 473.5,198.8 477.1,202.4 477.3,203.9 481,201.5 479.6,197.5 480.1,193 482.8,192.1 488.4,194.8 492.2,197.3 497,196.7 500.2,197.8 504.2,200.6 507.5,203.3 513.8,200.1 517.3,198.7 520.6,198.4 527.7,198.7 532.2,197 531,193.4 533.5,192.4 535.4,188.6 538.3,184.4 539.2,180.6 535,179.8 531.5,178 525.5,176.8 521,175.2 516.4,172.3 512,167.9 506.5,169.7 502.2,168.1 498.4,165.7 494.5,166 488.6,168 481.7,169.3 480.9,172.6 482.8,175.1 483.5,176.7 474.8,177.4 469,175.7 462.7,175.1 458.2,178.2 456.3,181Z"/>
<path fill="#fee8c8" fill-rule="evenodd" d="M479.4,201.9 482.7,202.7 484.6,200.1 487.3,199.7 490.2,202.5 495,204.2 498.9,206.6 503,210 505.6,211.9 509.4,212.7 510.2,209.3 509.1,207 509.5,205.9 511.3,204.9 513.5,205.5 518.6,203.8 516.2,201.6 512.5,202.1 510.1,201 507.8,201.5 505.2,199.4 501,196.4 497.2,195.1 492.6,195.7 489.2,193.4 483,190.3 478.7,191.8 478,197.7Z"/>
<path fill="#fdbb84" fill-rule="evenodd" d="M478,213.7 482.6,211.4 486.3,211.4 490.8,213.6 495.5,216.6 499.6,218.6 502.3,215.9 505.3,213.4 507,211 504,208.8 499.9,205.2 495.6,202.8 491,201.1 487.9,197.9 483.6,198.7 482.1,200.9 479.9,200.3 476.9,202.2 477.1,202.4 477.6,205.9 479,209.9 478.7,210 478.2,212.4 478,212.5Z"/>
<path fill="#fdbb84" fill-rule="evenodd" d="M508.6,202 511.4,203.3 510.4,203.1 510.4,207.2 514.1,207.9 517.8,207.3 522.1,206 525.7,203.6 529.2,201.9 532.7,199.1 531.7,195.4 527.5,197.1 520.6,196.8 516.9,197.1 513.2,198.7 510.7,199.9ZM515.1,203.3 513.5,203.9 512.7,203.7Z"/>
<path fill="#fee8c8" fill-rule="evenodd" d="M507.3,207.2 508.6,209.5 507.9,212.1 510.4,214.4 513.9,213.6 515.9,211.7 517.2,213.2 521.9,213.7 526.6,212.2 524.1,208.8 521.7,206.9 523.2,204.6 522.9,204.1 517.4,205.7 514.1,206.3 512,205.8 512,202.8 508.1,204.7Z"/>
<path fill="#fdd49e" fill-rule="evenodd" d="M456.5,205.8 459,207.8 462.8,209.5 463.2,209.1 461.3,205.5 458.6,201.5 454.7,202.3Z"/>
<path fill="#fee8c8" fill-rule="evenodd" d="M457.1,201.8 458.1,204.5 459.9,206.4 461.6,209.5 463.6,207.5 465.8,209.1 467.6,208.3 466.8,207.8 468.2,207.1 466.5,202.9 464.7,200.6 464,200 461,201Z"/>
<path fill="#fc8d59" fill-rule="evenodd" d="M526.3,227.6 523.4,232.5 518.1,237.7 519.2,243.3 520.7,245.4 516.4,246.3 518,248 520,253 524,256 528,254 530,258 533,266 536,276 539,284 542,289 544,286 545.6,280 546,272 549,266 560,255 564.1,251.6 565.1,251.8 563.1,247.3 562.6,243.2 564.2,243.5 565.7,246.8 568.2,249.4 571.3,250.8 571.1,249.8 572.3,248.2 572.8,248.4 572.8,248.8 576.4,244.4 580.8,236.2 578.5,234.5 575.1,232.5 571.1,235.8 568.3,239.1 563.5,239.5 562.6,235.9 559.2,237.5 559.2,240.1 554.2,239.2 546.4,236.3 542,232.8 543,230.8 537.7,226.5 535.7,221.6 530.7,216.6Z"/>
<path fill="#fee8c8" fill-rule="evenodd" d="M540,233.2 545.6,237.7 553.8,240.8 560.8,241.9 560.8,237.4 554.3,235.3 546.3,231.7 541.6,230Z"/>
<path fill="#fdd49e" fill-rule="evenodd" d="M562.3,241.1 570.1,240.6 566.8,235.5 561.1,236.3Z"/>
<path fill="#fff7ec" fill-rule="evenodd" d="M561.5,247.7 563.5,252.1 564.1,251.6 567,252.2 569.9,252.2 572.4,253.7 572.6,253.6 572.4,252.9 571.6,252.9 571.1,249.8 571.6,249.1 569.2,248 567.1,245.8 565.2,242.1 560.8,241.2Z"/>
<path fill="#fc8d59" fill-rule="evenodd" d="M550,286 547,284 546,287 546,291 548,294.4 551,292Z"/>
<path fill="#fdd49e" fill-rule="evenodd" d="M572,248.6 572.3,248.2 572.8,248.4 572.8,252.8 572,252.9 572,253.5 572.4,253.7 572.8,253.4 575.2,258 577.5,261.5 578.1,267.3 581,268.5 583.9,267.3 587.4,276.6 588.8,282 589.3,282 590,277.7 588.7,274 587,270.5 585.9,266.1 585.9,261.3 589,258.7 591.5,257.4 594.6,251.2 593.7,250.6 591.3,252.9 589.6,252 586.8,249.8 584.1,246.1 584.7,241 582.8,236.3 579.4,235.5 575,243.6 572,247.2Z"/>
<path fill="#ef6548" fill-rule="evenodd" d="M584.3,266.3 585.4,271.1 587.3,274.6 588.4,278 588.9,281.3 588.8,282 589.6,282 589.2,285.4 590.3,288.9 595,293.8 594.8,294.2 594.3,294.1 595.3,295.2 597.6,294.9 597.1,294.5 597.2,294.2 597.9,294.1 596.2,292.4 593.8,289.5 592.1,286 590.9,282.5 591.5,279 592.7,276.6 595,275.5 597.3,276.6 597.6,276.2 598.1,276.8 599.6,274.4 602.4,273.3 605.2,271.1 604.4,266.9 601.9,264.4 598.6,261.8 595,263.5 593,262.3 593.5,259 591.1,255.8 588.2,257.3 584.3,260.5Z"/>
<path fill="#ef6548" fill-rule="evenodd" d="M591.9,259.4 591.2,263.1 595,265.3 598.4,263.6 600.9,265.6 603,267.7 603.6,271.2 606.3,273.4 608.6,273.4 608.6,268.9 606.8,264.6 605.5,262.7 602,259.2 602.1,258.8 601.5,258.1 599.7,254.5 596.6,252.6 592.8,251.2 590,256.9Z"/>
<path fill="#fc8d59" fill-rule="evenodd" d="M598.5,255.7 600.1,259.1 603.1,262 605.4,265.4 607,269.3 607,272.8 608.8,275.7 608.3,278.6 605.5,280.7 605,281.5 605.6,281.4 605.8,281.7 604.1,284.2 604.9,287.1 609,283.1 612.5,280.1 613.1,275.5 611.9,270.8 609,266.2 602,259.2 603.1,256.2 604.9,253.3 605.6,253.7 605.9,253.2 603,249.7 598.4,249 591.6,252.1 591.6,252.5 595.8,254Z"/>
<path fill="#fc8d59" fill-rule="evenodd" d="M597.1,276.5 597.3,276.6 597.6,276.2 600.2,279.6 603.1,281.9 605.6,281.4 605.8,281.7 605.4,282.2 606.4,282 609.7,279.4 610.4,275.3 608.2,271.8 606.9,271.8 604.3,269.8 601.6,271.9 598.5,273.1Z"/>
<path fill="#fdd49e" fill-rule="evenodd" d="M627.3,205.3 627.9,204.7 629.5,206.8 631.1,207.9 631.7,210.6 633.3,211.2 635.5,210.6 635.5,211.4 635.9,211.3 638.2,209.6 636,207.4 636.5,204.7 636,202.5 637.6,200.3 637.1,198.6 637.8,198.3 637.7,197.8 634,198.5 631.7,200.7 629.5,201.8 626.8,204.6Z"/>
<path fill="#fc8d59" fill-rule="evenodd" d="M634.7,210.8 635.5,210.6 635.5,212.8 637.6,218.2 639.8,220 642.5,219.3 643.6,216.6 641.9,213.3 639.8,210.6 638.1,209.5 637.1,208.5 634.7,210.2Z"/>
<path fill="#fdbb84" fill-rule="evenodd" d="M664.7,198.7 666.3,196.5 664.2,194.4 660.4,195.5 658.2,193.3 656,192.2 657.7,194.9 657.1,196.5 656.6,198.7 658.2,200.9 660.4,201.4 662,199.2Z"/>
<path fill="#fdbb84" fill-rule="evenodd" d="M649.4,222.7 648.9,222.1 651.2,220.9 654.6,221.7 655.5,221.3 657.2,222.1 657.9,221.4 660.4,222 662.5,219.8 665.2,219.3 667.4,218.2 667.9,215.5 666.3,211.7 665.8,208.4 664.2,205.2 662,202.5 659.8,203 659.8,204.7 660.9,206.8 660.9,210.1 659.3,212.8 657.7,213.9 656.6,216.6 653.3,217.1 650.6,218.2 649,220.4 647.6,222.8 646.8,223.1 647.5,224Z"/>
<path fill="#fdbb84" fill-rule="evenodd" d="M649.2,221.3 648.3,221.6 647.6,222.8 646.8,223.1 648.4,225.2 650.1,227.9 651.7,228.5 652.2,226.3 650.6,223.6 648.9,222.1 649.6,221.7Z"/>
<path fill="#fdbb84" fill-rule="evenodd" d="M655.4,220.8 654,221.6 654.6,221.7 654.6,222.2 652.8,223.1 653.3,224.4 655.5,223.8 657.7,221.6Z"/>
<path fill="#fdbb84" fill-rule="evenodd" d="M646.2,279 647,278 646.2,277.8 648,275.6 645,274 641,271 641.6,266 640,261.6 637,263 637,268 639,273 642,276 645.7,277.9 645.7,278.3 645.1,278.5Z"/>
<path fill="#fdbb84" fill-rule="evenodd" d="M645.2,277.6 645.7,277.9 645.7,278.3 643,279 644,282 646,284 650,283 651,279 646.2,277.8 646.6,277.3Z"/>
<path fill="#fdbb84" fill-rule="evenodd" d="M654.4,291 653,286 648,286 644,289 645,291 649,292 652,295Z"/>
<path fill="#fdbb84" fill-rule="evenodd" d="M637,281 632.4,287 634,288 638,282Z"/>
<path fill="#ef6548" fill-rule="evenodd" d="M434.5,111.7 435.2,110.7 431.6,110.3 427.4,110.6 428.8,111.8Z"/>
<path fill="#fff7ec" fill-rule="evenodd" d="M597.3,293.6 594.6,293.4 595,293.8 594.8,294.2 593,294 594,298 597,303 601,307 603.6,306 602.4,302 600,297 597.1,294.5 597.2,294.2 597.9,294.1Z"/>
<path fill="#fff7ec" fill-rule="evenodd" d="M608.9,325.6 608.8,325.3 608.1,325.4 607,317 602,312 592,300 586,295 582,296 590,307 595,316 600,323 605,326 605.6,325.8 605.7,326.6Z"/>
<path fill="#fff7ec" fill-rule="evenodd" d="M604.8,325.9 605,326 605.6,325.8 606,328.4 609,330 616,331.6 625,333 629,331.6 626,329 610,325 608.1,325.4 608,324.6 604.7,325.4Z"/>
<path fill="#fff7ec" fill-rule="evenodd" d="M637.6,298 637,295 632,292 630,294 626,299 620,304 615,305 614,308 615.6,313 618,318 630,320 632,317 634,312 637,309 635,300Z"/>
<path fill="#fff7ec" fill-rule="evenodd" d="M643.5,312.1 643.4,311.7 646,310 652,307 651,305 644,306 640,308 638,313 637,319 638,325 640,324 641.9,320.2 642.1,320.2 644,324.4 647.6,324 646,321 645,316 648,313Z"/>
<path fill="#fff7ec" fill-rule="evenodd" d="M637,333 636,331.6 631,332.4 632,334Z"/>
<path fill="#fff7ec" fill-rule="evenodd" d="M638.5,334.9 640.1,334.7 639.9,333.9 645.6,333 646,331 638,332 639.3,334.5 638.4,334.7Z"/>
<path fill="#fff7ec" fill-rule="evenodd" d="M655,331.6 646,335 648,337 656,333Z"/>
<path fill="#fff7ec" fill-rule="evenodd" d="M640.6,333.5 638.9,333.8 639.3,334.5 636.4,335 637,336.6 640.4,336.4 639.9,333.9 640.7,333.7Z"/>
<path fill="#fff7ec" fill-rule="evenodd" d="M659,304.4 657,305 657,310 658,313 660,309Z"/>
<path fill="#fff7ec" fill-rule="evenodd" d="M654,320 664,320 665,318 660,317 653,318Z"/>
<path fill="#fff7ec" fill-rule="evenodd" d="M688.8,317.3 682,314 672,316 673,313 669,310.4 664,312 665,315 668,318 671,320 680,327 679,330 682,332.4 687.8,333.2Z"/>
<path fill="#fee8c8" fill-rule="evenodd" d="M686.2,332.9 692,334 696,332 700,334 706,338 709,337 705,333 702,328 704,327 700,323 694,319 687.2,316.6Z"/>
<path fill="#fee8c8" fill-rule="evenodd" d="M712.9,319 713.7,319.4 710,323 704,324.4 707,327 713,325 716,321 713.5,318.5 714,318Z"/>
<path fill="#fee8c8" fill-rule="evenodd" d="M713.1,320 714.1,319.1 713.5,318.5 714,318 711,316.4 710.4,317.6 713.7,319.4Z"/>
<path fill="#fee8c8" fill-rule="evenodd" d="M721,328 722,327 719,323 718.4,324.4Z"/>
<path fill="#fee8c8" fill-rule="evenodd" d="M726,330.4 729.6,332 730,331 727,329 723,327 722.6,328Z"/>
<path fill="#fc8d59" fill-rule="evenodd" d="M663.9,398.6 663,403 665,409 670,411 675,411.6 682,410 688,407 699,396 703,390 705.6,383 705.6,376 703,370 700,364 696,357 695,349 689.6,340 688,342 686,350 682.4,356 678,352 673,348 676,341.6 669,341 666,340 661,344 658,349 653,346.4 648,348 643,353.6 640,357.6 634,362 626,364.4 620,367.6 619,371 616.4,378 618,386 617,393 614,399 617,401.6 622,401 628,399 634,398 640,394.4 647,393 653,393.6 657,397 660,401 663.5,398.4Z"/>
<path fill="#fc8d59" fill-rule="evenodd" d="M667.6,423 671,423.6 675,421 677,416 669,416.4Z"/>
<path fill="#fdbb84" fill-rule="evenodd" d="M736,418 739,415 744,413 747,409 741.6,407 741,401 739,400 739,408 736,413 732,417 733,419Z"/>
<path fill="#fdbb84" fill-rule="evenodd" d="M728,416.4 719,422 705,429 705.6,431 710,431.6 716,429 723,424 730,420 731,417Z"/>
<path fill="#fee8c8" fill-rule="evenodd" d="M738,369 740,368 737,363 734.4,362 735,365Z"/>
<path fill="#fee8c8" fill-rule="evenodd" d="M745,353 744.4,349 743,348 743.6,352Z"/>
<path fill="#fdd49e" fill-rule="evenodd" d="M770,354.4 766,355 766.4,357.6 769,357.6Z"/>
<path fill="#fdd49e" fill-rule="evenodd" d="M383.6,116.4 387.2,118.2 390.7,117.1 392.1,114.2 400.6,113.5 401.3,111.7 386.5,111.4 378,112.5 380.1,114.2Z"/>
<path fill="#fdd49e" fill-rule="evenodd" d="M398.5,116.8 399.2,115.9 394.2,115.4 394.7,116.5Z"/>
<path fill="#fdd49e" fill-rule="evenodd" d="M386,156.7 385.7,150.9 385.4,150.9 385.2,149.6 386.5,145.7 390,141.6 392.6,136.8 397.9,135.9 401.2,135.5 403.5,136.3 409.2,133.4 413.8,134.2 414.7,131.5 410.5,129.8 403.4,130 396.4,131.9 390.7,135.4 382.2,143.9 376.6,147.4 372.4,150.9 372.4,155.2 373.5,158.5 377,159.8 381,159 383.5,157.5 383.9,158.2 384.1,158.1 384.7,156.8Z"/>
<path fill="#fdd49e" fill-rule="evenodd" d="M404.2,136.9 404.2,134.8 401.4,133.9 397.7,134.3 391.6,135.4 388.6,140.6 385.1,144.9 383.6,149.4 384.1,153.3 383.7,155.2 382.6,157.5 382.8,157.9 383.5,157.5 387,164 389.5,166.5 392.5,165 394,162.5 393.5,159.5 395.5,157.5 397,156.3 396.4,153.8 394.7,150.9 395.6,147.4 399.2,143.9 403,141.6 403.5,141.9ZM397.5,156 397,156.3 397.1,156.6Z"/>
<path fill="#fdbb84" fill-rule="evenodd" d="M402.6,141.9 403,141.6 406.2,143.2 403.4,146 401.3,148.8 402,150 402.5,152.5 404,154.5 407,155.5 412,154.8 415.7,154.1 415.5,154.9 416.5,154.7 419.3,150.3 419.8,147.9 417.5,144.9 415.4,141.4 413.4,137.4 414.2,132.6 409,131.8 402.6,134.9Z"/>
<path fill="#fdbb84" fill-rule="evenodd" d="M407.9,160.6 411.9,161.8 416.4,161.2 415.7,156.3 415.2,156.2 415,157 411,156.5 406.5,157.5 408.9,160.4Z"/>
<path fill="#fc8d59" fill-rule="evenodd" d="M406.6,165 409.4,164.8 412.8,165.8 417.3,166.4 417.3,163.9 416.1,159.6 412,160.2 408.5,159.7 408.3,159.7 408.9,160.4 405.5,161 403.5,162.5 404,165 404.2,165.6Z"/>
<path fill="#fc8d59" fill-rule="evenodd" d="M404.4,168.2 407.9,169.2 409.1,172.2 413.5,169.6 418,165.1 418,164.9 413.2,164.2 409.6,163.2 406.3,163.4 403.9,164.2 404.5,166.2 403.7,166.4Z"/>
<path fill="#ef6548" fill-rule="evenodd" d="M401.5,169.8 405.1,170 410.1,169 410.1,168.3 405.1,166.4 400.7,167.4 401.2,168.5 400.9,168.5Z"/>
<path fill="#d7301f" fill-rule="evenodd" d="M408.7,173.8 410.6,176.3 423.8,177 426.4,174.8 425.9,172.7 427.8,170.8 424.6,168.9 423.1,165.9 420.2,164.2 416.1,164.7 412.5,168.4 408.7,170.5Z"/>
<path fill="#ef6548" fill-rule="evenodd" d="M441.9,189.7 441.6,188.9 441,189.5 441.3,190.3ZM442.4,186.7 444.9,184.3 444.2,180.4 440.3,178.7 436.3,177.7 432,175.3 429.2,172.9 425.1,173.8 423.2,175.4 411,174.7 408.4,174.7 409.6,178.8 407.4,181.6 408.9,183 410.6,185.2 414,185.8 417.6,184.8 419.8,184.8 421.5,185.6 422.9,187.8 420.8,189.4 423.1,191.8 423.5,191 427,188.5 432,190.5 435,189.5 436.5,191.5 439,191.5 441,189.5 440.5,188 439,188.2 438.7,187.1 442,186Z"/>
<path fill="#b30000" fill-rule="evenodd" d="M419,186.1 420.8,187.9 421.5,190.9 425.1,188.2 422.5,184.4 420.2,183.2 416.1,183.2 415.9,183.8Z"/>
<path fill="#d7301f" fill-rule="evenodd" d="M406.8,191.4 408.4,193.5 410.6,195.7 413.9,196.3 418.1,196.3 421.7,195.8 421.5,195 423.5,191 424.2,190.5 422.7,189.1 422.2,187.1 420,184.9 417.7,183.1 414,184.2 410.8,183.7 408,185.4 405,188.4Z"/>
<path fill="#fc8d59" fill-rule="evenodd" d="M409.9,197.6 410,197.5 410.8,199.8 410.5,200 409.9,199.7 410.9,202.2 414.6,202.8 418.1,201.6 417.5,201 420.5,200 422,197.5 421.5,195 421.9,194.1 417.9,194.7 414.1,194.7 410.3,194.1Z"/>
<path fill="#fc8d59" fill-rule="evenodd" d="M390.1,171.7 391.3,178.2 395.8,178.8 401.8,180.8 404.8,181.3 408.8,182.4 411.4,179.2 410.9,177.1 412,175.5 410.3,173.2 410.3,170.8 409,167.6 405,168.4 400.9,167.7 401.2,168.5 398,168.5 394,169.5 391,172 390.5,171.4Z"/>
<path fill="#fc8d59" fill-rule="evenodd" d="M389.6,183.2 392.9,184.3 398.2,184.3 401.6,182.1 403.2,179.6 396.2,177.2 391.9,176.7 389.1,177.8 386.3,179.9Z"/>
<path fill="#ef6548" fill-rule="evenodd" d="M397.9,185.2 399.9,185.8 406.7,184.8 410.9,182.7 408.9,180.8 405.2,179.7 401.6,179.1 400.4,180.9 397,183.2Z"/>
<path fill="#fdbb84" fill-rule="evenodd" d="M375.7,171.3 374.7,176.8 374.1,178.6 375.2,180.2 375.2,182 377.1,182.9 376.7,185.1 377.5,186.7 380.5,187.3 383,186.8 385.6,187.3 390.8,185 390.8,182.2 388.7,180.1 389.9,179.2 392.9,178 391.8,171.7 391.6,171.5 391,172 389.5,170 387,169 384,169.5 382,169 380.5,168.5 380.9,167.8 380.4,167.6 379.9,167.9 380.5,168.5 378.5,169.5 376.5,171.2Z"/>
<path fill="#fdbb84" fill-rule="evenodd" d="M380.7,169.8 381.3,168.8 380.5,168.5 382,166 383,163.5 382.5,161 380.5,161.5 378.5,163 378.5,165 379,167 380.5,168.5 379.7,168.9Z"/>
<path fill="#fdbb84" fill-rule="evenodd" d="M387,166.5 386.5,165 384,165.5 385,167.5Z"/>
<path fill="#fdbb84" fill-rule="evenodd" d="M373.1,177.7 375.3,180 376.3,177.2 377.4,170.4 376.5,171.2 373.5,171.5 371.5,173.5 370.5,176.5 369.5,176.9 369.4,177.1Z"/>
<path fill="#fc8d59" fill-rule="evenodd" d="M369.6,179.7 375.8,182.2 375.8,178.2 373.9,176.3 370.8,175.7 370.5,176.5 368,177.5 367.3,178Z"/>
<path fill="#ef6548" fill-rule="evenodd" d="M374.2,181.5 376.8,182.8 376.8,179.2 374.2,179.2Z"/>
<path fill="#fc8d59" fill-rule="evenodd" d="M358.5,197 362.2,198.2 365.8,199.8 368.8,199.8 369.5,199 370,197.5 373,196 377,196.5 379.7,195 378.6,194 377.3,191.9 377.8,189.4 376.9,187.1 378.2,185.3 378.9,182.1 375.3,180.3 370.4,178.3 368.9,177.2 368,177.5 366,179 362.5,181 359.5,182 357.5,183.5 353.5,184 354.5,185.5 357.5,186.5 360,189 360.5,193 359.5,196.5 358.7,196.5Z"/>
<path fill="#fc8d59" fill-rule="evenodd" d="M382.5,198 381.2,198.5 381,200 381.5,202 382.8,201Z"/>
<path fill="#fc8d59" fill-rule="evenodd" d="M344.6,201.3 348.1,201.7 347.2,212.2 347.3,212.3 348,212 350,215 354,216 361,213 363,207 364.5,204.5 367,202 369.6,198.8 366.2,198.2 362.8,196.8 359.7,195.7 359.5,196.5 353,196.5 347,196 343.5,197 343.5,199 344.7,200.2 344.5,200.5 344,200.5Z"/>
<path fill="#d7301f" fill-rule="evenodd" d="M348.8,212.5 349.9,200.3 344.2,199.7 344.7,200.2 344.5,200.5 344,200.5 344,204 343,207 342.6,209 344.6,213.6 348,212 348.4,212.7Z"/>
<path fill="#fc8d59" fill-rule="evenodd" d="M359,178 362.5,177.5 365.5,176.5 366,173.5 364,172.5 360,166.5 358.5,164 359,161.5 356.5,160.5 357,158.8 353.5,159 351.5,161 351.5,163 352.5,165 354.5,167 355.5,169.5 357,171.5 354.5,172.5 353.5,175 356.1,175.9 356.1,176.2 354.5,177 351.5,179.8Z"/>
<path fill="#fc8d59" fill-rule="evenodd" d="M348.6,169.2 351.2,169.9 351,169 351.5,168 350,167 348,167.5 347.3,168Z"/>
<path fill="#fdbb84" fill-rule="evenodd" d="M349.4,167.8 348.9,167.3 348,167.5 346.5,168.5 344.5,170.5 343.5,175 347,175 350,173.5 351.5,171 351,169 351.4,168.3Z"/>
<path fill="#fdbb84" fill-rule="evenodd" d="M376.4,190.1 377.8,190.8 380.6,190.8 383.2,190.3 387.1,188.7 385.4,187.5 387.1,186.4 387,186 383,185.2 380.5,185.7 377.9,185.2 375,186.6Z"/>
<path fill="#fdbb84" fill-rule="evenodd" d="M382.6,187.5 385.4,189.4 388,188.4 390.3,189.3 394.2,189.3 397.6,187.6 399.4,184.5 398.5,182.7 393.1,182.7 389.2,181.4 389.2,184 385.1,185.8Z"/>
<path fill="#fc8d59" fill-rule="evenodd" d="M396.8,189.6 399.4,190.8 403.2,190.3 406.4,189.2 409,186.6 412.2,184.7 409.7,181.5 406.3,183.2 400.1,184.2 398.1,183.5 396.1,186.9Z"/>
<path fill="#ef6548" fill-rule="evenodd" d="M390.7,191.2 391.5,190.8 393.5,191.2 393.8,191.9 395.9,191.2 398.4,189.3 397.5,185.8 393.7,187.8 390.7,189Z"/>
<path fill="#fc8d59" fill-rule="evenodd" d="M392.6,191 393.5,191.2 394,192.5 398,196.5 401,199 404,200.5 404.1,201.3 406.6,200.1 406.6,199.6 403.3,198.8 400.5,196.9 398.1,194.5 397.2,192.9 398.1,192.6 401,192.8 405.2,192.1 403.5,188.6 399.6,189.2 397.4,188.1 395.1,189.8 392.5,190.7Z"/>
<path fill="#fdbb84" fill-rule="evenodd" d="M396.7,195.2 400.2,198.3 403.4,198.9 404.8,196.7 404.3,194 405,190.5 401,191.2 397.9,191 394.8,192.1Z"/>
<path fill="#fc8d59" fill-rule="evenodd" d="M403.2,191.6 402.7,194 403.3,196.9 404.4,198 406.2,200.4 408.9,199.7 409.3,199.4 408.5,199 410,197.5 410.8,199.8 410.5,200 409.9,199.7 410.2,200.6 411.1,200.5 411.8,194.7 409.6,192.5 408.2,190.6 406.4,187.5 401.9,189Z"/>
<path fill="#fc8d59" fill-rule="evenodd" d="M403.1,200.1 404,200.5 404.1,200.9 406.5,199.3 405.7,197.1 403.9,195.2 402.1,197.9Z"/>
<path fill="#fdbb84" fill-rule="evenodd" d="M404.8,199.6 407.4,200.9 408,200.2 404.7,195.8 403.8,196.3Z"/>
<path fill="#fdd49e" fill-rule="evenodd" d="M406.3,203.8 409.2,203.8 412.6,201.8 411,199.4 410.5,199.1 410.8,199.8 410.5,200 408.5,199 409.1,198.4 408.6,198.2 405.6,198.9Z"/>
<path fill="#fdd49e" fill-rule="evenodd" d="M403.2,200.1 404,200.5 404.2,203 405,206 405.9,205.7 406.2,206.4 407.2,206.1 407.8,203 407.2,199 405.4,198.1 403.2,199.6Z"/>
<path fill="#fdbb84" fill-rule="evenodd" d="M405.5,204.4 404.7,205 405.1,206 405.9,205.7 408,210 412,214 414,211 413.5,210 414.2,209.7 413,206 412,204 419,202.5 417.5,201 418.3,200.7 417.7,200.1 414.4,201.2 411.3,200.7 408.8,202.2 406.3,202.2 405.8,204.7ZM420.5,203 419.7,202.1 419,202.5 419,203.3Z"/>
<path fill="#fdbb84" fill-rule="evenodd" d="M420,217.6 414,217 414.4,218.6 420,219Z"/>
<path fill="#fdd49e" fill-rule="evenodd" d="M392.3,189.2 390.9,187.8 388,186.6 382.8,188.7 380.4,189.2 378.2,189.2 376.4,188.3 375.7,192.1 377.4,195 378.2,195.9 380.5,194.5 383,194 385.5,195.5 387,198 389.5,200.5 395,205 397,211 397.6,210 398,210 399,208 398.5,205.5 400.5,206 401.5,205 396,201.5 393,199 390.5,196 389,193 390,191.5 391.5,190.8 392.3,191Z"/>
<path fill="#fdd49e" fill-rule="evenodd" d="M380.5,206 381.2,208.5 383,208.5 383.5,205.5 382.5,203 380.5,203.5Z"/>
<path fill="#fdd49e" fill-rule="evenodd" d="M397.1,209.2 396.4,209.2 396.8,210.3ZM391,212 395,213 396,210 390,210Z"/>
<path fill="#fff7ec" fill-rule="evenodd" d="M418.2,202.7 419,202.5 418.4,201.9 418.2,202ZM440.9,215.8 445.2,213.8 459.7,212.8 460.3,206.2 458.1,204 456.6,201.4 452.9,199.8 450.2,197.8 450,198.2 450.5,199 449,202 445,201 440,200.5 435,201 429.5,202.5 425,202 421.5,201 419,202.5 419,207 420,211 423,213.6 429,215 435,213 440.9,215Z"/>
<path fill="#fdbb84" fill-rule="evenodd" d="M437,217 433,218 436,219.6Z"/>
<path fill="#fc8d59" fill-rule="evenodd" d="M448.3,197.1 449.5,197.5 450.5,199 450.1,199.7 452.1,201.2 455.8,202.8 460,203.3 464.5,202.6 464.6,201.9 461.3,200.3 457.2,198.7 448.4,196.3 448.1,196.8Z"/>
</g>
<g id="countries">
<path class="c" fill="#ef6548" d="M48,143 52,140 60,135 63,139 67.6,140 67,142.4 60,144.4 55,144.4 52.4,142Z"/>
<path class="c" fill="#ef6548" d="M67.6,130 72,129.2 72.6,130 69,130.8Z"/>
<path class="c" fill="#fdd49e" d="M127.6,133 119,131.6 109,129.6 100,131 91,133 83,135.6 81.6,139 78,140.6 71.6,142 71,144.4 77.6,145.6 74.4,148 65,150 60.6,152.4 61.6,155.6 66,157.6 65,159.4 60,161.8 52,165.2 44,168.4 44.4,169.2 54,166 64,162.4 70,160 71.6,162.4 77,160 75,158.4 83,155 89,152 83,157 92.4,154 99,153.6 104.4,154.4 107,157 111,159.6 112.4,164 113.6,167 115,182 112,179 109,176 111,172 110,167 109,162 105,158 104.4,154.4Z"/>
<path class="c" fill="#fdd49e" d="M57,147 61,146.4 61.6,148 58,148.4Z"/>
<path class="c" fill="#fdd49e" d="M55,154.4 59,154 59,155.4 55.6,155.8Z"/>
<path class="c" fill="#fdd49e" d="M103.6,170 106,169 107,171 104.4,174.4 103,173Z"/>
<path class="c" fill="#fdbb84" d="M127.6,133 104.4,154.4 107,157 111,159.6 112.4,164 110,167 111,172 109,176 112,179 115,182 172,182 180,184 185,185.6 189,188 192,194 188,200 190,201 200,196 210,193 216,190.4 219.6,189.6 220.4,195.6 224,193.6 224,189 230,183 233,186 232,189 239,188 240,191 234,193 229,195 225.6,197 223.6,194 222.4,188 219,187 224,185 229,182 234,180 240,184 245,180 250,177 254,173 253,169 249,166 246,160 245,154.4 241,157 236,158.4 234,152.4 228,149.6 221,151 218,155 219,160 216,165 210,169 209,174 205,176.4 202.4,173 203,167.6 198,164 190,162 187.6,158 191,153 197,148 204,145.6 210,143 216,141 222,139 227,135.6 224,133 218,135 214,136 212,133 210,129 207,133 201,136 196,138 188,136.4 179,137.6 173,136 168,136 163,133 156,133 152,131.6 142,132 130,134Z"/>
<path class="c" fill="#fdbb84" d="M160,127 167,124 178,123.6 180,125.6 173,127 170,130 179,128 188,126 196,125 193,130 196,134 188,135 179,136 173,135 168,134 170,132 163,130Z"/>
<path class="c" fill="#fdbb84" d="M176,119 182,117.6 190,117 187,119 194,119 200,120 196,121.6 188,122.4 181,121Z"/>
<path class="c" fill="#fdbb84" d="M194,115.6 201,114.4 200,116.4 195,117Z"/>
<path class="c" fill="#fdbb84" d="M209,113.6 215,114 218,116 213,116.4Z"/>
<path class="c" fill="#fdbb84" d="M206,119.6 212,118.4 218,120 214,121.6 209,121.6Z"/>
<path class="c" fill="#fdbb84" d="M225,111.6 236,109 250,107.6 277,107.6 270,110 260,112.4 250,114.4 245,118 236,117 229,115.6Z"/>
<path class="c" fill="#fdbb84" d="M217,119 225,118.4 238,120 239,122 230,122.4 222,123Z"/>
<path class="c" fill="#fdbb84" d="M200,126 205,124.4 209,125.6 206,129 201,129.6Z"/>
<path class="c" fill="#fdbb84" d="M217,128 224,125 232,125 240,126 246,130 250,136 256,139 251,143 247,142 246,148 240,149 234,145 228,145 225,143 232,141 238,138 236,135 230,134 226,132 222,133 218,131Z"/>
<path class="c" fill="#fdbb84" d="M210,145 214,142 220,146 216,148Z"/>
<path class="c" fill="#fdbb84" d="M243,185 247,180 250,177 253,181 256,182 255,188 252,188 249,186 245,186.4Z"/>
<path class="c" fill="#fdbb84" d="M107,179 110,178 113.6,182 114,185 111,183.6Z"/>
<path class="c" fill="#fdd49e" d="M115,182 172,182 180,184 185,185.6 189,188 192,194 188,200 190,201 200,196 210,193 216,190.4 219.6,189.6 220.4,195.6 218,198 212,201.6 207,204 201,208 199,212 197,220 193,222 188,227 183.6,233 184.4,240 182.4,244 180,241 179,235 176,232 170,233 165,231 162,233 154,234 148,237 145,242 143,241 138,233 132,233 128,227.6 122,228 114,226.4 106,225 99,209 101,202 106,194 110.4,188 114.4,186Z"/>
<path class="c" fill="#fee8c8" d="M106,225 114,226.4 122,228 128,227.6 132,233 138,233 143,241 145,242 143,248 143,254 146,259 150,262 156,261 159,256 164,254 167,255.6 165,260 162,263 160,265 157,265 155,268 152,270 149,268 143,269 136,267 130,263 125,259 124,256 122,251 118.4,243.6 115.2,236.4 112.4,229 109.6,228.4 109.4,230 110.4,237 113.2,242.4 116.6,249.2 116,250.6 113.6,248.4 110.4,243.6 107.6,239 106.8,234 106.4,229Z"/>
<path class="c" fill="#fee8c8" d="M152,270 155,268 157,265 160,265 159.6,268 161,269 158,272.4 154,273.6 152,272Z"/>
<path class="c" fill="#fdbb84" d="M160,263 162.4,261.6 162,267 159.6,268 160,265Z"/>
<path class="c" fill="#fee8c8" d="M161,269 165,268 172,269 170,271 165,272.4 162.4,275 160,273 158,272.4Z"/>
<path class="c" fill="#fee8c8" d="M154,273.6 158,272.4 160,273 161,275 157,275Z"/>
<path class="c" fill="#fee8c8" d="M162.4,275 165,272.4 170,271 172,270 171,276 170,280 166,280 163,277Z"/>
<path class="c" fill="#fee8c8" d="M166,280 170,280 173,284 172,287 169,285 166,282.4Z"/>
<path class="c" fill="#fdd49e" d="M172,287 173,284 177,286 181,285 184,287 185,290 183,290 181,288 178,289 175,290 173,289Z"/>
<path class="c" fill="#fdd49e" d="M171.6,251.6 176,249.6 181,250 187,253 192,256 195,257.6 192,258.4 187,257 183,254.4 178,252.4 173,253Z"/>
<path class="c" fill="#fdd49e" d="M194,262 197,258.4 200,258.4 200.4,263 198,262.4Z"/>
<path class="c" fill="#fdd49e" d="M200,258.4 202,258.4 207,261 206,263 201,263 200.4,263Z"/>
<path class="c" fill="#fdd49e" d="M185,262 189,261.6 189.6,263.2 186,263.6Z"/>
<path class="c" fill="#fdbb84" d="M210,262 214,261.6 213.6,263.4 210.4,263.4Z"/>
<path class="c" fill="#fdd49e" d="M8.5,257 11.5,257.5 11.5,260.5 9,260.5Z"/>
<path class="c" fill="#fdd49e" d="M5,254 7.5,254.5 7.5,256 5.5,256Z"/>
<path class="c" fill="#fdd49e" d="M2,252 3.5,252.5 3.5,253.5 2,253.5Z"/>
<path class="c" fill="#fdd49e" d="M186,240 190.5,239.5 191,241.5 188,242Z"/>
<path class="c" fill="#fdd49e" d="M187,244.5 189,244 189.5,247.5 187.5,247.5Z"/>
<path class="c" fill="#fdd49e" d="M219.5,281.5 223.5,281 223,283.8 220,284Z"/>
<path class="c" fill="#fdbb84" d="M201,320.4 202,317 201,310 203,307 208,307 213,307 215,303 220,300 224,298 226,305.6 229,306.4 232,304 237,304 241,304 244,299.6 247,303 248,309 255,312 262,317 270,317.6 278,321 282,325 282.4,331 280,337 275,345 274,352 273,360 270,369 264,370 258,374 255,379 254.4,382 253,387 249,393 247,395.6 244,392 239,388 239,386 242.4,382 243,378 241.6,378 240,372 235,368 231,364 232,361 231,355 226,352 225,347 220,344 214,340 213,336 207,337 205,341 203,338 198,336 194.4,332 194,327 197,322.4Z"/>
<path class="c" fill="#fee8c8" d="M185,290 189,283 195,279.6 199,277.6 200,280 196,282.4 195,287 197,291 203,293.6 207,296 208,304 208,307 203,307 201,310 202,317 201,320.4 199.6,318 195,317 190,312 186,309 181,307 183,303 185,296Z"/>
<path class="c" fill="#fdd49e" d="M196,282.4 200,280 203,279 208,282.4 214,283 219,282 224,284.4 225,289 223,292 224,298 220,300 215,303 213,307 208,307 208,304 207,296 203,293.6 197,291 195,287Z"/>
<path class="c" fill="#fee8c8" d="M225,289 228,291 231,295 229,300 232,304 229,306.4 226,305.6 224,298 223,292Z"/>
<path class="c" fill="#fdd49e" d="M231,295 237,295 238,299 237,304 232,304 229,300Z"/>
<path class="c" fill="#fdd49e" d="M237,295 242,296 244,299.6 241,304 237,304 238,299Z"/>
<path class="c" fill="#fee8c8" d="M181,307 186,309 190,312 188,315 184,319 181,321.6 178,322.4 176,320 177,313Z"/>
<path class="c" fill="#fee8c8" d="M176,322.4 181,321.6 184,319 188,315 190,312 195,317 199.6,318 201,320.4 197,322.4 194,327 194.4,332 198,336 203,338 205,341 204.4,350 205,356 203,358 196,354 190,349 185,338 180,329 176,324Z"/>
<path class="c" fill="#fee8c8" d="M205,341 207,337 213,336 214,340 220,344 225,347 226,352 231,355 232,361 228,360.4 223,362 221,368 217,367 214,369 211,366 208,360 205,356 204.4,350Z"/>
<path class="c" fill="#fdd49e" d="M223,362 228,360.4 232,361 231,364 235,368 240,372 241.6,378 239,382 234,381 235,376 230,372 224,368.4 221,368.4Z"/>
<path class="c" fill="#fdd49e" d="M203,358 205,356 208,360 211,366 209,376 208,382 209,388 208,396 211,402 210,409 212,416 213,421 215,430 217,438 221,443 225,445.6 226,449 230,451 237,452.4 236,453.6 230,454.4 224,452 217,447 212,441 209.6,434 208,430 209.6,427 208,422 206.4,416 204.4,408 205.6,400 204,386 204.4,370Z"/>
<path class="c" fill="#fdbb84" d="M211,366 214,369 217,367.6 221,368.4 224,368.4 230,372 235,376 234,381 239,382 243,378 242.4,382 239,386 236,389 235,395 237,400 240,405 240,409 236,411 230,412 231,417 226,418 229,421 227,426 224,430 229,433 228,438 226,444 228,446 225,445.6 221,443 217,438 215,430 213,421 212,416 210,409 211,402 208,396 209,388 208,382 209,376Z"/>
<path class="c" fill="#fdbb84" d="M226,446 229,447 237,452.4 230,451 226,449Z"/>
<path class="c" fill="#fdbb84" d="M236,389 239,388 244,392 247,395.6 246,399 242,401 238,400 235.6,397 235,393Z"/>
<path class="c" fill="#ffffff" d="M197.5,283.2 199.3,282.8 199.8,285.5 198.2,286Z"/>
<path class="n" fill="url(#hatch)" d="M255,116 262,112.4 278,108.4 298,107.6 318,106.4 332,107 346,109.6 338,111.6 335,116 332,122 328,127 324,132 316,135 308,138 298,142 290,148 285,153 281,155.6 275,152.4 273,148 272,140 275,134 274,128 276,123 270,119 262,118.4Z"/>
<path class="c" fill="#fdd49e" d="M321,141 326,140 335,140 339,142.4 336,145.6 328,147 322,145.6Z"/>
<path class="c" fill="#fff7ec" d="M341,231 345,225 350,220 355,217 359,218 360,223 358,227 353,230 349,233 344,235 343,238 335,238 337,235Z"/>
<path class="n" fill="url(#hatch)" d="M325,254 327,248 331,243 335,238 343,238 343,242 335,242.4 334.6,250 333,254Z"/>
<path class="c" fill="#fff7ec" d="M359,218 365,215 373,213.6 381,213 380,218 381,223 384,229 385,237 386,244 389,248 383,252 373,259 366,254 358,249 349,243 343,240 343,238 344,235 349,233 353,230 358,227 360,223Z"/>
<path class="c" fill="#fff7ec" d="M381,213 385,212.4 386.6,216 385,220 388,224 385,229 384,229 381,223 380,218Z"/>
<path class="c" fill="#fff7ec" d="M385,229 388,224 395,226 403,229 407,226 413,225 418,227 419,236 419,257 415,258 397,249 394,250 389,248 386,244 385,237Z"/>
<path class="c" fill="#fff7ec" d="M418,227 425,228 433,229 438.4,230.2 439.6,233.8 439,236.8 437.4,235.6 434.5,232.5 437,236 440,241.5 443,247.5 446,252 419,252 419,236Z"/>
<path class="c" fill="#fff7ec" d="M325,254 333,254 334.6,250 335,242.4 343,242 343,240 349,243 350,250 350.4,255 349.8,269.1 335.6,270.1 333.3,268.5 329.2,266.5 324.5,267.9 325,262Z"/>
<path class="c" fill="#fff7ec" d="M349,243 358,249 366,254 373,259 372.7,259.1 372.1,266.8 370.4,269.1 365.1,270.3 364.5,271.5 361.5,270.5 359.2,272.1 356.8,275 353.3,277.4 350.9,280.3 349.8,282.6 346.8,283.2 343.3,282.6 343.3,282.1 342.7,277.9 340.4,275 336.2,274.4 335.6,271.5 335.6,270.1 349.8,269.1 350.4,255 350,250Z"/>
<path class="c" fill="#fff7ec" d="M373,259 383,252 389,248 394,250 397,249 398,256 399.2,260.9 398,266.8 395.1,270.3 395.6,274.4 394.5,275.6 390.9,275 386.2,276.2 380.4,275.6 375.6,274.4 372.1,275.6 370.9,279.1 368,277.9 365.6,276.2 363.9,272.6 364.5,271.5 365.1,270.3 370.4,269.1 372.1,266.8 372.7,259.1Z"/>
<path class="c" fill="#fdd49e" d="M397,249 415,258 417,259 417,269 414,274 415,280 413.3,279.1 410.9,282.1 406.2,286.2 401.5,289.7 398.6,287.9 395.6,286.2 398.6,283.8 395.6,281.5 396.8,278.5 395.6,274.4 395.1,270.3 398,266.8 399.2,260.9 398,256Z"/>
<path class="c" fill="#fff7ec" d="M419,252 446,252 447.5,258 450,263 446.5,265 445.5,272 445,276 441,280 438,282 437,278 434,281 429,284 424,283 419,284 415,280 414,274 417,269 417,259 419,257Z"/>
<path class="c" fill="#fdbb84" d="M419,284 424,283 429,284 434,281 437,278 438,282 441,288 444,294 439,298 434,299.6 429,298 424,294 420,288Z"/>
<path class="c" fill="#fee8c8" d="M445.5,272 449,271.5 453,272 456,274.5 459,278 459,280 460.5,281 472,290 465,295 459,299 453,300 447,298 444,294 441,288 438,282 441,280 445,276Z"/>
<path class="c" fill="#fff7ec" d="M450,263 452,267 455,271 458.5,275 460.5,278 459,278 456,274.5 453,272 449,271.5 445.5,272 446.5,265Z"/>
<path class="c" fill="#fee8c8" d="M459,278 460.5,278 462,279.5 460.5,281 459,280Z"/>
<path class="c" fill="#fff7ec" d="M460.5,281 462,279.5 467,280 474,279 480,278 479,284 475,292 469,300 463,306 459,310 458,304 459,299 465,295 472,290Z"/>
<path class="c" fill="#fff7ec" d="M322.7,271.5 324.5,267.9 329.2,266.5 333.3,268.5 335.6,271.5 336.2,274.4 335.1,276.8 330.9,276.8 325.1,277.1 323.9,274.4Z"/>
<path class="c" fill="#fdbb84" d="M324.5,273.8 331.5,273.6 331.9,274.8 324.5,275.2Z"/>
<path class="c" fill="#fdbb84" d="M325.1,277.4 330.9,277 330.4,279.1 328.6,280.9 326.2,279.7Z"/>
<path class="c" fill="#fff7ec" d="M328.6,280.9 330.4,279.1 330.9,277 335.1,276.8 336.2,274.4 340.4,275 342.7,277.9 343.3,282.1 343.9,286.8 341.5,290.3 339.8,288.5 338.6,285 336.2,283.8 333.9,285 332.1,286.2 329.8,283.2Z"/>
<path class="c" fill="#fdd49e" d="M332.1,286.2 333.9,285 336.2,283.8 338.6,285 339.2,287.9 337.4,290.3 335.1,290.9 332.7,288.5Z"/>
<path class="c" fill="#fdd49e" d="M337.4,290.3 339.2,287.9 339.8,288.5 341.5,290.3 343.9,292.6 345.6,295.6 345.6,298.5 341.5,296.2 338.6,293.2Z"/>
<path class="c" fill="#fdd49e" d="M343.9,286.8 343.3,282.6 346.8,283.2 349.8,282.6 352.1,283.8 355.6,284.4 356.2,290.3 355.6,296.2 350.9,296.8 345.6,298.3 345.6,295.6 343.9,292.6 341.5,290.3Z"/>
<path class="c" fill="#fdbb84" d="M350.9,280.3 353.3,277.4 356.8,275 359.2,272.1 361.5,270.5 363.9,272.6 365.6,276.2 368,277.9 366.2,279.7 363.3,281.5 356.8,282.1 355.6,284.4 352.1,283.8 349.8,282.6Z"/>
<path class="c" fill="#fdbb84" d="M355.6,284.4 356.8,282.1 363.3,281.5 363.3,285.6 364.5,290.3 364.5,294.4 359.2,297.4 355.6,296.2 356.2,290.3Z"/>
<path class="c" fill="#fee8c8" d="M363.3,281.5 365.1,281.5 366.2,293.8 364.5,294.4 364.5,290.3 363.3,285.6Z"/>
<path class="c" fill="#fee8c8" d="M365.1,281.5 366.2,279.7 368,277.9 370.9,279.1 370.4,283.8 369.5,288.5 369.2,293.6 366.2,293.8Z"/>
<path class="c" fill="#fdbb84" d="M370.9,279.1 372.1,275.6 375.6,274.4 380.4,275.6 386.2,276.2 390.9,275 394.5,275.6 396.2,278.5 393.3,283.2 390.9,287.9 387.4,291.5 385.1,293.8 382.7,296.8 378,298.5 375.1,295.6 373.3,293.6 369.2,293.6 369.5,288.5 370.4,283.8Z"/>
<path class="c" fill="#fdbb84" d="M394.5,275.6 395.6,274.4 396.8,278.5 395.6,281.5 398.6,283.8 395.6,286.2 396.8,290.3 396.2,295 398,299.7 399.2,303.8 393.3,304.4 389.5,304.4 385.6,303.2 383.3,300.3 382.7,296.8 385.1,293.8 387.4,291.5 390.9,287.9 393.3,283.2 396.2,278.5Z"/>
<path class="c" fill="#fee8c8" d="M396.8,290.3 395.6,286.2 398.6,287.9 401.5,289.7 406.2,286.2 410.9,282.1 413.3,279.1 415,280 419,284 420,288 424,294 419,296 413,296 407,299 405.6,301.5 402.7,302.1 399.2,303.8 398,299.7 396.2,295Z"/>
<path class="c" fill="#fc8d59" d="M385.1,304.4 389.5,304.4 389.2,306.8 385.1,307Z"/>
<path class="c" fill="#ef6548" d="M385.1,307 389.2,306.8 389.5,304.4 393.3,304.4 395.1,307.4 395.6,311.5 396.2,315 393.3,316.2 390.9,317.4 389.2,320.3 386.2,317.4 383.9,313.2 383.6,309.7Z"/>
<path class="c" fill="#fdd49e" d="M393.3,304.4 399.2,303.8 402.7,302.1 405.6,301.5 405,302 403,308 402,314 398,319 394,322 390,322 389.2,320.3 390.9,317.4 393.3,316.2 396.2,315 395.6,311.5 395.1,307.4Z"/>
<path class="c" fill="#fee8c8" d="M405.6,301.4 407,299 413,296 419,296 424,294 429,298 434,299.6 433,306 431,312 430.6,317 432,322 431,327 435,332 430,332 429,337 431,343 429,344 425,341 419,339 415,339 413,333 412,329 407,329 402,330 400,326 393,325.6 392,323 394,322 398,319 402,314 403,308 405,302Z"/>
<path class="c" fill="#ef6548" d="M434,299.6 439,298 443,295.6 443.4,301 442.6,307 440,312 432,312.4 433,306Z"/>
<path class="c" fill="#fdd49e" d="M443.4,301 443,295.6 444,294 447,298 453,300 459,299 458,306 459,313 456,317 453,321 442.6,313 440,312 442.6,307Z"/>
<path class="c" fill="#fdbb84" d="M431,312.4 434,312.4 434.6,316 431.4,316.4Z"/>
<path class="c" fill="#fdd49e" d="M431.4,316.4 434.6,316 433.4,320 431.6,320Z"/>
<path class="c" fill="#fc8d59" d="M434,312.4 440,312 442.6,313 453,321 452,326 454,332 455,338 447,340.4 443,340 440,335 435,332 431,327 432,322 433.4,320 434.6,316Z"/>
<path class="c" fill="#fdbb84" d="M393,325.6 400,326 402,330 407,329 412,329 413,333 415,339 418,339 417.4,343 413,344 413.4,355 415,356 409,356.4 401,355.6 390,354.4 390.6,348 393,341 394,334 392,329Z"/>
<path class="c" fill="#fdbb84" d="M390,322 392,323 391.4,325.2 390.2,324.4Z"/>
<path class="c" fill="#fee8c8" d="M415,339 419,339 425,341 429,344 431,343 429,337 430,332 435,332 440,335 439,341 440,346 436,348 432,350 429,352 424,356 419,356 415,356 413.4,355 413,344 417.4,343 418,339Z"/>
<path class="c" fill="#fdd49e" d="M440,335 443,340 444,346 443,353 441.4,351 441,347 439,341Z"/>
<path class="c" fill="#fee8c8" d="M447,340.4 455,338 456,344 455,350 450,355 445,359 442,363 443,369 442,374 438,376 435,377 434,372 435,368 437,364 438,358 437,353 432,350 436,348 440,346 441,347 441.4,351 443,353 444,346 443,340Z"/>
<path class="c" fill="#fee8c8" d="M424,356 429,352 432,350 437,353 438,358 437,364 435,368 431,368 427,365 423,360 421,357Z"/>
<path class="c" fill="#fc8d59" d="M409,356.4 411,357 415,356 419,356 421,357 423,360 427,365 429,367 425,370 421,376 416,378 412,377 410,380 407.4,374 408.6,370 409,364Z"/>
<path class="c" fill="#fdbb84" d="M390,354.4 401,355.6 409,356.4 409,364 408.6,370 407.4,374 408,384 404,386 400,383 397,376 395,368 392,360Z"/>
<path class="c" fill="#fdbb84" d="M400,383 404,386 408,384 407.4,374 410,380 412,377 416,378 421,376 425,370 429,367 431,368 434,372 435,377 436,381 434,386 429,392 423,397 415,399 407,400 403,399 402,392 401,387Z"/>
<path class="c" fill="#fdbb84" d="M425,385 428,387.4 425.4,390.4 422.4,388Z"/>
<path class="c" fill="#fee8c8" d="M432,377 434.6,377 435,381 432.6,381Z"/>
<path class="c" fill="#fee8c8" d="M475,342 477.4,344 478,350 476,356 474,364 471,372 468,376 464,377 461,374 460.6,368 463,362 464,354 469,351 473,346Z"/>
<path class="c" fill="#ef6548" d="M306.8,266.3 308,266.3 308,267.4 306.8,267.4Z"/>
<path class="c" fill="#ef6548" d="M308.6,267.8 309.8,267.8 309.8,268.9 308.6,268.9Z"/>
<path class="c" fill="#ef6548" d="M307.5,269.8 308.7,269.8 308.7,270.8 307.5,270.8Z"/>
<path class="c" fill="#fff7ec" d="M440.9,214.4 442.1,213.8 446.2,212.6 453.2,212.1 457.9,212.6 459.1,210.3 458.5,206.8 460.3,205.6 463.8,206.2 466.2,207.4 467.9,208.5 471.5,210.3 476.8,210.3 483.8,209.1 490.9,211.5 495.6,213.8 500.3,213.8 506.2,211.5 509.7,210.3 514.4,209.1 519.1,210.3 524,210 529,213 531,218 529,223 527,228 524,233 519,238 520,243 522,246 517,247 513,242 509.7,243.2 505,243.8 501.5,244.4 500.3,244.4 495.6,243.2 490.5,240.1 487.4,239.2 482.6,239.7 478.2,237.4 475.4,234.1 472.9,231 470.3,232.1 470.9,234.6 473.5,238.3 475.1,241.8 477.2,241.8 477.2,244.9 478.9,244.6 480.3,247.2 484.4,247.5 487.4,245.6 489.7,242.4 490,242.5 491,246 495,248.5 498,251.5 496,256 493.5,259 491,263 487,265.5 483.5,266.5 480.5,269 475,272 469,275 464,277 462.5,276.5 461.5,274 460.5,270 460,266 457.2,262.5 454.5,258 451.6,253.5 449.6,249 446.5,245 442.8,240 440,236.5 439.7,233.8 438.5,230.3 439.1,227.9 440.3,223.2 440.9,218.5Z"/>
<path class="c" fill="#ef6548" d="M414,131.2 417.5,132.6 423.2,134 428.8,135.4 433.1,137.5 433.8,139.6 430.9,141.8 427.4,141.1 423.2,139.6 421.1,140.4 423.2,142.5 427.4,144.6 431.6,142.8 435.2,140.4 438.7,138.2 437.3,136.1 441.5,136.8 444.4,137.5 450,136 458,135.6 464,133.6 471,133 479,136.4 475,132 473,128 477,126 480,129 482.4,133 486,137 487,140 489.6,139.6 489,136 486.4,132 484,128 487,127.6 492,125.6 498,123 504,120 511,119.6 518,117 526,119 534,119 538,121 537,123 545,125 552,125 560,124.4 568,125.6 574,128 578,129.6 585,128 590,127 600,128 610,130 620,130.4 626,131 630,133 638,133 646,134 648,132.4 656,133 664,135 670,139 676,143 680,147 685,149 680,150 678,153 676,156 672,154 666,155.6 668,160 673,164 674,168 675.6,173 674.4,177 669,173 664,168 659,163 659,159 661,154 658,150 656,153 652,152.4 648,154 649,157 644,158 636,157 628,159 625,165 626,168 633,170 638,171 642,176 642.5,179.7 645.2,185.2 646.3,190.6 644.7,196 642.5,198.2 639.8,197.6 637.6,198.4 637.1,196 636,193.3 637.6,191.1 636.5,187.9 635.5,184.1 631,186 625,183 618,180 613,176 608,173 602,171.6 600,174 601,179 597,180 597,183 590,183 580,183 596,184 570,186 539,184 510,184 470,188 463,190 460,193 462,198 465,201 463,202 461,201 457,199.5 453,198.5 449.5,197.5 445,196 441,194 442,192 441,189.5 442.8,187.8 442,186 444,184 443.5,181 440,179.5 436,178.5 431.5,176 429,173.8 425.5,174.5 425,172.5 426.5,171 424,169.5 422.5,166.5 420,165 416.5,165.5 416.5,164 415.5,160.5 415,157 415.5,155 416,154 418.5,150 418.9,148.1 416.8,145.3 414.7,141.8 412.6,137.5 413.3,133.3Z"/>
<path class="c" fill="#ef6548" d="M447,127.6 450,122 456,119.6 467,118 466,120 458,121.6 454,125 457,130 452,131 448,129.6Z"/>
<path class="c" fill="#ef6548" d="M494,110.4 499,110 508,113 507,114.4 500,113.6 495,112Z"/>
<path class="c" fill="#ef6548" d="M510,113.6 517,114.4 516,116 511,115Z"/>
<path class="c" fill="#ef6548" d="M574,119.6 582,119.6 590,121 596,121.6 595,122.4 586,122 578,121.6Z"/>
<path class="c" fill="#ef6548" d="M586,124.4 592,125 590,126.4Z"/>
<path class="c" fill="#ef6548" d="M640.3,170.5 642.5,172.2 646.8,176.5 651.2,179.7 654.4,181.4 652.2,182.5 654.4,186.2 657.1,189 654.4,189.5 651.7,185.7 649,181.9 645.7,178.1 641.9,173.8Z"/>
<path class="c" fill="#ef6548" d="M655,129.6 658,130.4 657.6,131.2 655.2,130.6Z"/>
<path class="c" fill="#ef6548" d="M400.6,167.2 403.4,166.5 405.5,168.6 401.3,168.6Z"/>
<path class="c" fill="#d7301f" d="M539,181.6 570,188 597,184 597,180 601,179 600,174 602,171.6 608,173 613,176 618,180 625,183 631,186 635,184 636.5,187.9 637.6,191.1 636,193.3 637.1,196 637.6,198.4 637.1,198.7 634.4,199.2 632.2,201.4 630,202.5 627.9,204.7 626.2,206.3 623,207.9 621.4,205.7 620.3,203.6 617.6,206.3 614.9,208.4 617.6,210.6 620.8,212.8 624.1,211.7 626.8,213.3 625.2,215.5 622.5,217.7 625.2,220.9 628.4,225.2 632,229 634,234 633,240 631,245 627,250 624.1,250.4 619.5,252.2 614.8,253.9 612.5,254.7 612.7,257.8 614.2,258.6 613.6,260.9 611.3,262.1 609.6,260.6 609.6,258.6 611.3,257.8 611.1,255 607.8,255.1 604.9,253.3 602.6,250.4 598.5,249.8 594.4,251.6 593.2,252.2 591.5,253.9 589.2,252.7 586.2,250.4 583.3,246.3 583.9,241.1 582.2,237 579.8,236.4 578.1,235.2 575.2,233.5 571.7,236.4 568.7,239.9 566.4,236.4 562.1,237 560,238 554,236 546,232.4 542,231 537,227 535,222 531,218 533.5,220 530,216.5 525.3,211.8 523.5,209.4 520.6,207.1 521.8,205.3 525.3,202.9 528.8,201.2 531.8,198.8 531.2,196.5 530,192.9 532.9,191.8 534.7,188.2 537.6,184.1 538.2,181.2Z"/>
<path class="c" fill="#7f0000" d="M540,181.7 545,178.7 552.5,178.3 557.5,179.2 558.3,175.3 562.5,176.7 568.3,179.2 573.3,179.7 580,180.8 585.8,181.7 591.7,180 597.5,180.8 598.3,184.7 603.3,185.8 607.2,187.5 602.5,190 596.7,191.7 594.2,195.8 590,198.7 584.2,200.8 576.7,199.2 570,198.7 564.2,197.5 560,194.2 554.2,192.5 550,190.8 548.3,186.7 543.3,184.2Z"/>
<path class="n" fill="url(#hatch)" d="M634,245 636,244 637,248 635.6,252.4 633.6,250Z"/>
<path class="c" fill="#fc8d59" d="M457.1,181.2 458.8,178.8 462.9,175.9 468.8,176.5 474.7,178.2 480.6,177.6 484.7,177.4 483.5,174.7 481.8,172.4 482.4,170 488.8,168.8 494.7,166.8 498.2,166.5 501.8,168.8 506.5,170.6 511.8,168.8 515.9,172.9 520.6,175.9 525.3,177.6 531.2,178.8 534.7,180.6 538.2,181.2 537.6,184.1 534.7,188.2 532.9,191.8 530,192.9 531.2,196.5 527.6,197.9 520.6,197.6 517.1,197.9 513.5,199.4 511.2,200.6 507.6,202.4 504.7,200 500.6,197.1 497.1,195.9 492.4,196.5 488.8,194.1 482.9,191.2 479.4,192.4 478.8,197.6 480,201.2 476.5,203.5 473.5,200 468.8,195.3 467.6,193.5 472.1,190.6 471.8,188.8 468.8,188 465.3,188.8 461.8,191.2 461.8,188.8 459.4,186.5 457.6,184.1Z"/>
<path class="c" fill="#fee8c8" d="M478.8,197.6 479.4,192.4 482.9,191.2 488.8,194.1 492.4,196.5 497.1,195.9 500.6,197.1 504.7,200 507.6,202.4 510,201.8 512.4,202.9 515.9,202.4 517.1,203.5 513.5,204.7 511.2,204.1 508.8,205.3 508.2,207.1 509.4,209.4 508.8,211.8 505.9,211.2 503.5,209.4 499.4,205.9 495.3,203.5 490.6,201.8 487.6,198.8 484.1,199.4 482.4,201.8 480,201.2Z"/>
<path class="c" fill="#fdbb84" d="M477.6,205.9 476.5,203.5 480,201.2 482.4,201.8 484.1,199.4 487.6,198.8 490.6,201.8 495.3,203.5 499.4,205.9 503.5,209.4 505.9,211.2 504.7,212.9 501.8,215.3 499.4,217.6 495.9,215.9 491.2,212.9 486.5,210.6 482.4,210.6 478.8,212.4 478.8,209.4Z"/>
<path class="c" fill="#fdbb84" d="M511.2,200.6 513.5,199.4 517.1,197.9 520.6,197.6 527.6,197.9 531.2,196.5 531.8,198.8 528.8,201.2 525.3,202.9 521.8,205.3 517.6,206.5 514.1,207.1 511.2,206.5 511.2,204.1 513.5,204.7 517.1,203.5 515.9,202.4 512.4,202.9 510,201.8Z"/>
<path class="c" fill="#fee8c8" d="M508.8,205.3 511.2,204.1 511.2,206.5 514.1,207.1 517.6,206.5 521.8,205.3 520.6,207.1 523.5,209.4 525.3,211.8 521.8,212.9 517.6,212.4 515.9,210.6 513.5,212.9 510.6,213.5 508.8,211.8 509.4,209.4 508.2,207.1Z"/>
<path class="c" fill="#fdd49e" d="M455.9,202.9 458.2,202.4 460.6,205.9 461.8,208.2 459.4,207.1 457.1,205.3Z"/>
<path class="c" fill="#fee8c8" d="M461.2,201.8 464.7,200.6 466.5,202.9 468.2,207.1 465.9,208.2 463.5,206.5 461.8,208.2 460.6,205.9 458.8,204.1 458.2,202.4Z"/>
<path class="c" fill="#ffffff" d="M460,193.5 461.8,191.2 465.3,188.8 468.8,188 471.8,188.8 472.1,190.6 470,192 467.6,193.5 468.8,195.3 472.4,196.5 473.5,198.8 475.3,200.6 477.1,202.4 477.6,205.9 478.8,209.4 478.2,212.4 475.3,213.9 471.8,212.9 469.4,211.2 468.2,207.1 467.6,203.5 465.9,200.6 463.5,197.6 461.2,195.9Z"/>
<path class="c" fill="#fc8d59" d="M531,218 535,222 537,227 542,231 541,233 546,237 554,240 560,241 560,238 562.1,237 562.9,240.3 568.7,239.9 571.7,236.4 575.2,233.5 578.1,235.2 579.8,236.4 575.7,244 572.8,247.5 571.1,249.8 568.7,248.7 566.4,246.3 564.7,242.8 561.7,242.2 562.3,247.5 564.1,251.6 560,255 555,260 549,266 546,272 545.6,280 544,286 542,289 539,284 536,276 533,266 530,258 528,254 524,256 520,253 518,248 517,247 522,246 520,243 519,238 524,233 527,228 529,223Z"/>
<path class="c" fill="#fee8c8" d="M542,231 546,232.4 554,236 560,238 560,241 554,240 546,237 541,233Z"/>
<path class="c" fill="#fdd49e" d="M562.1,237 566.4,236.4 568.7,239.9 562.9,240.3Z"/>
<path class="c" fill="#fff7ec" d="M561.7,242.2 564.7,242.8 566.4,246.3 568.7,248.7 571.1,249.8 571.7,253.3 569.9,252.2 567,252.2 564.1,251.6 562.3,247.5Z"/>
<path class="c" fill="#fc8d59" d="M547,284 550,286 551,292 548,294.4 546,291 546,287Z"/>
<path class="c" fill="#fdd49e" d="M572.8,247.5 575.7,244 579.8,236.4 582.2,237 583.9,241.1 583.3,246.3 586.2,250.4 589.2,252.7 591.5,253.9 593.2,252.2 590.9,256.8 588.6,258 585.1,260.9 585.1,266.2 586.2,270.8 588,274.3 589.2,277.8 588.6,281.3 587.4,276.6 585.7,272 583.9,267.3 581,268.5 578.1,267.3 577.5,261.5 575.2,258 572.8,253.3Z"/>
<path class="c" fill="#ef6548" d="M585.1,260.9 588.6,258 590.9,256.8 592.7,259.2 592.1,262.7 595,264.4 598.5,262.7 601.4,265 603.7,267.3 604.3,270.8 602,272.6 599.1,273.7 597.3,276.6 595,275.5 592.7,276.6 591.5,279 590.9,282.5 592.1,286 593.8,289.5 596.2,292.4 597.9,294.1 595.6,294.4 593.2,291.8 590.3,288.9 589.2,285.4 589.7,281.3 589.2,277.8 588,274.3 586.2,270.8 585.1,266.2Z"/>
<path class="c" fill="#ef6548" d="M590.9,256.8 593.2,252.2 596.2,253.3 599.1,255.1 600.8,258.6 603.7,261.5 606.1,265 607.8,269.1 607.8,272.6 606.6,272.6 604.3,270.8 603.7,267.3 601.4,265 598.5,262.7 595,264.4 592.1,262.7 592.7,259.2Z"/>
<path class="c" fill="#fc8d59" d="M596.2,253.3 593.2,252.2 594.4,251.6 598.5,249.8 602.6,250.4 604.9,253.3 603.1,256.2 602,259.2 604.9,262.1 609,266.2 611.9,270.8 613.1,275.5 612.5,280.1 609,283.1 604.9,287.1 604.1,284.2 606.1,281.3 609,279 609.6,275.5 607.8,272.6 607.8,269.1 606.1,265 603.7,261.5 600.8,258.6 599.1,255.1Z"/>
<path class="c" fill="#fc8d59" d="M599.1,273.7 602,272.6 604.3,270.8 606.6,272.6 607.8,272.6 609.6,275.5 609,279 606.1,281.3 603.1,281.9 600.2,279.6 597.9,276.6Z"/>
<path class="c" fill="#fdd49e" d="M627.9,204.7 630,202.5 632.2,201.4 634.4,199.2 637.1,198.7 637.6,200.3 636,202.5 636.5,204.7 636,207.4 637.6,209 635.5,210.6 633.3,211.2 631.7,210.6 631.1,207.9 629.5,206.8Z"/>
<path class="c" fill="#fc8d59" d="M635.5,210.6 637.6,209.2 639.8,210.6 641.9,213.3 643.6,216.6 642.5,219.3 639.8,220 637.6,218.2 636.5,215.5 635.5,212.8Z"/>
<path class="c" fill="#fdbb84" d="M656,192.2 658.2,193.3 660.4,195.5 664.2,194.4 666.3,196.5 664.7,198.7 662,199.2 660.4,201.4 658.2,200.9 656.6,198.7 657.1,196.5 657.7,194.9Z"/>
<path class="c" fill="#fdbb84" d="M659.8,203 662,202.5 664.2,205.2 665.8,208.4 666.3,211.7 667.9,215.5 667.4,218.2 665.2,219.3 662.5,219.8 660.4,222 657.7,221.4 655.5,220.4 653.3,221.4 651.2,220.9 649,222 647.4,223.1 649,220.4 650.6,218.2 653.3,217.1 656.6,216.6 657.7,213.9 659.3,212.8 660.9,210.1 660.9,206.8 659.8,204.7Z"/>
<path class="c" fill="#fdbb84" d="M646.8,223.1 649,222.2 650.6,223.6 652.2,226.3 651.7,228.5 650.1,227.9 648.4,225.2Z"/>
<path class="c" fill="#fdbb84" d="M652.8,223.1 655.5,221.7 657.1,222.2 655.5,223.8 653.3,224.4Z"/>
<path class="c" fill="#fdbb84" d="M637,263 640,261.6 641.6,266 641,271 645,274 648,275.6 646,278 642,276 639,273 637,268Z"/>
<path class="c" fill="#fdbb84" d="M643,279 647,278 651,279 650,283 646,284 644,282Z"/>
<path class="c" fill="#fdbb84" d="M644,289 648,286 653,286 654.4,291 652,295 649,292 645,291Z"/>
<path class="c" fill="#fdbb84" d="M632.4,287 637,281 638,282 634,288Z"/>
<path class="n" fill="url(#hatch)" d="M439.4,228.2 440.3,223.5 441.6,223.2 441.1,227.9 440.2,232.6 438.9,230.1Z"/>
<path class="c" fill="#ef6548" d="M427.4,110.6 431.6,110.3 435.2,110.7 434.5,111.7 428.8,111.8Z"/>
<path class="c" fill="#fff7ec" d="M593,294 597,294.4 600,297 602.4,302 603.6,306 601,307 597,303 594,298Z"/>
<path class="c" fill="#fff7ec" d="M582,296 586,295 592,300 597,306 602,312 607,317 608,325 605,326 600,323 595,316 590,307 585,300Z"/>
<path class="c" fill="#fff7ec" d="M605.6,326 610,325 618,327 626,329 629,331.6 625,333 616,331.6 609,330 606,328.4Z"/>
<path class="c" fill="#fff7ec" d="M615,305 620,304 626,299 630,294 632,292 637,295 637.6,298 635,300 636,305 637,309 634,312 632,317 630,320 624,319 618,318 615.6,313 614,308Z"/>
<path class="c" fill="#fff7ec" d="M640,308 644,306 651,305 652,307 646,310 643,312 648,313 645,316 646,321 647.6,324 644,324.4 642,320 640,324 638,325 637,319 638,313Z"/>
<path class="c" fill="#fff7ec" d="M631,332.4 636,331.6 637,333 632,334Z"/>
<path class="c" fill="#fff7ec" d="M638,332 646,331 645.6,333 639,334Z"/>
<path class="c" fill="#fff7ec" d="M646,335 655,331.6 656,333 648,337Z"/>
<path class="c" fill="#fff7ec" d="M636.4,335 640,334.4 640.4,336.4 637,336.6Z"/>
<path class="c" fill="#fff7ec" d="M657,305 659,304.4 660,309 658,313 657,310Z"/>
<path class="c" fill="#fff7ec" d="M653,318 660,317 665,318 664,320 654,320Z"/>
<path class="c" fill="#fff7ec" d="M664,312 669,310.4 673,313 672,316 677,315 682,314 688,317 687,333 682,332.4 679,330 680,327 675,323 671,320 668,318 665,315Z"/>
<path class="c" fill="#fee8c8" d="M688,317 694,319 700,323 704,327 702,328 705,333 709,337 706,338 700,334 696,332 692,334 687,333Z"/>
<path class="c" fill="#fee8c8" d="M704,324.4 710,323 714,319 716,321 713,325 707,327Z"/>
<path class="c" fill="#fee8c8" d="M711,316.4 714,318 713,319 710.4,317.6Z"/>
<path class="c" fill="#fee8c8" d="M719,323 722,327 721,328 718.4,324.4Z"/>
<path class="c" fill="#fee8c8" d="M723,327 727,329 730,331 729.6,332 726,330.4 722.6,328Z"/>
<path class="c" fill="#fc8d59" d="M614,399 617,393 618,386 616.4,378 619,371 620,367.6 626,364.4 634,362 640,357.6 643,353.6 648,348 653,346.4 658,349 661,344 666,340 669,341 676,341.6 673,348 678,352 682.4,356 686,350 688,342 689.6,340 692,344 695,349 696,357 700,364 703,370 705.6,376 705.6,383 703,390 699,396 694,401 688,407 682,410 675,411.6 670,411 665,409 663,403 664,398 660,401 657,397 653,393.6 647,393 640,394.4 634,398 628,399 622,401 617,401.6Z"/>
<path class="c" fill="#fc8d59" d="M669,416.4 677,416 675,421 671,423.6 667.6,423Z"/>
<path class="c" fill="#fdbb84" d="M739,400 741,401 741.6,407 747,409 744,413 739,415 736,418 733,419 732,417 736,413 739,408Z"/>
<path class="c" fill="#fdbb84" d="M728,416.4 731,417 730,420 723,424 716,429 710,431.6 705.6,431 705,429 711,426 719,422 724,419Z"/>
<path class="c" fill="#fee8c8" d="M734.4,362 737,363 740,368 738,369 735,365Z"/>
<path class="c" fill="#fee8c8" d="M743,348 744.4,349 745,353 743.6,352Z"/>
<path class="c" fill="#fdd49e" d="M766,355 770,354.4 769,357.6 766.4,357.6Z"/>
<path class="c" fill="#fdd49e" d="M378,112.5 386.5,111.4 401.3,111.7 400.6,113.5 392.1,114.2 390.7,117.1 387.2,118.2 383.6,116.4 380.1,114.2Z"/>
<path class="c" fill="#fdd49e" d="M394.2,115.4 399.2,115.9 398.5,116.8 394.7,116.5Z"/>
<path class="c" fill="#fdd49e" d="M372.4,150.9 376.6,147.4 382.2,143.9 386.5,139.6 390.7,135.4 396.4,131.9 403.4,130 410.5,129.8 414,131.2 413.3,133.3 409.1,132.6 406.2,134 403.4,135.4 401.3,134.7 397.8,135.1 392.1,136.1 389.3,141.1 385.8,145.3 384.4,149.5 385.1,155.2 385,152.5 384.5,155.5 383.5,157.5 381,159 377,159.8 373.5,158.5 372.5,155.5 372.4,155.2Z"/>
<path class="c" fill="#fdd49e" d="M384.4,149.5 385.8,145.3 389.3,141.1 392.1,136.1 397.8,135.1 401.3,134.7 403.4,135.4 403.4,136.8 402.7,141.8 399.2,143.9 395.6,147.4 394.7,150.9 396.4,153.8 397.1,156.6 397.5,156 395.5,157.5 393.5,159.5 394,162.5 392.5,165 389.5,166.5 387,164 385,160.5 383.5,157.5 384.5,155.5 385,152.5 385.1,155.2Z"/>
<path class="c" fill="#fdbb84" d="M403.4,135.4 406.2,134 409.1,132.6 413.3,133.3 412.6,137.5 414.7,141.8 416.8,145.3 418.9,148.1 418.5,150 416,154 412,154.8 407,155.5 404,154.5 402.5,152.5 402,150 401.3,148.8 403.4,146 406.2,143.2 403.4,141.8 403.4,136.8Z"/>
<path class="c" fill="#fdbb84" d="M406.5,157.5 411,156.5 415,157 415.5,160.5 412,161 408.5,160Z"/>
<path class="c" fill="#fc8d59" d="M403.5,162.5 405.5,161 408.5,160.5 412,161 415.5,160.5 416.5,164 416.5,165.5 413,165 409.5,164 406.5,164.2 404,164.8Z"/>
<path class="c" fill="#fc8d59" d="M404,165 406.5,164.2 409.5,164 413,165 416.5,165.5 413,169 409.5,171 408.5,168.5 405,167.5Z"/>
<path class="c" fill="#ef6548" d="M401.5,168 405,167.2 408.5,168.5 405,169.2 402,169Z"/>
<path class="c" fill="#d7301f" d="M409.5,171 413,169 416.5,165.5 420,165 422.5,166.5 424,169.5 426.5,171 425,172.5 425.5,174.5 423.5,176.2 419,176 415,175.8 411,175.5 409.5,173.5Z"/>
<path class="c" fill="#ef6548" d="M409.5,175.5 411,175.5 415,175.8 419,176 423.5,176.2 425.5,174.5 429,173.8 431.5,176 436,178.5 440,179.5 443.5,181 444,184 442,186 439,187 436.5,188.2 435,189.5 436.5,191.5 439,191.5 441,189.5 440.5,188 437,188.5 435,189.5 433.5,190 432,190.5 429.5,189.5 427,188.5 425,190 423.5,191 422,189.5 424,188 422,185 420,184 417.5,184 414,185 411,184.5 409.5,182.5 408.5,181.5 410.5,179 410,177Z"/>
<path class="c" fill="#b30000" d="M417.5,184 420,184 422,185 424,188 422,189.5 421.5,187.5 419.5,185.5Z"/>
<path class="c" fill="#d7301f" d="M406,188.5 408.5,186 411,184.5 414,185 417.5,184 419.5,185.5 421.5,187.5 422,189.5 423.5,191 422.5,193 421.5,195 418,195.5 414,195.5 411,195 409,193 407.5,191Z"/>
<path class="c" fill="#fc8d59" d="M411,195 414,195.5 418,195.5 421.5,195 422,197.5 420.5,200 417.5,201 414.5,202 411.5,201.5 410.5,199Z"/>
<path class="c" fill="#fc8d59" d="M391,172 394,169.5 398,168.5 401.5,168.5 405,169.2 408.5,168.5 409.5,171 409.5,173.5 411,175.5 410,177 410.5,179 408.5,181.5 405,180.5 402,180 399,179 396,178 392,177.5 391.5,175Z"/>
<path class="c" fill="#fc8d59" d="M387.5,180 389.5,178.5 392,177.5 396,178 399,179 402,180 401,181.5 398,183.5 396,183.5 393,183.5 390,182.5Z"/>
<path class="c" fill="#ef6548" d="M398,183.5 401,181.5 402,180 405,180.5 408.5,181.5 409.5,182.5 406.5,184 403,184.5 400,185 398.5,184.5Z"/>
<path class="c" fill="#fdbb84" d="M376.5,171.2 378.5,169.5 380.5,168.5 382,169 384,169.5 387,169 389.5,170 391,172 391.5,175 392,177.5 389.5,178.5 387.5,180 390,182.5 390,184.5 388,185.5 385.5,186.5 383,186 380.5,186.5 378,186 377.5,185 378,182.5 376,181.5 376,180 375,178.5 375.5,177 376,174.5Z"/>
<path class="c" fill="#fdbb84" d="M378.5,163 380.5,161.5 382.5,161 383,163.5 382,166 380.5,168.5 379,167 378.5,165Z"/>
<path class="c" fill="#fdbb84" d="M384,165.5 386.5,165 387,166.5 385,167.5Z"/>
<path class="c" fill="#fdbb84" d="M370.5,176.5 371.5,173.5 373.5,171.5 376.5,171.2 376,174.5 375.5,177 375,178.5 373.5,177Z"/>
<path class="c" fill="#fc8d59" d="M368,177.5 370.5,176.5 373.5,177 375,178.5 375,180 375,181 372.5,180 370,179Z"/>
<path class="c" fill="#ef6548" d="M375,180 376,180 376,181.5 375,181Z"/>
<path class="c" fill="#fc8d59" d="M353.5,184 357.5,183.5 359.5,182 362.5,181 366,179 368,177.5 370,179 372.5,180 375,181 376,181.5 378,182.5 377.5,185 376,187 377,189.5 376.5,192 378,194.5 379,195.5 377,196.5 373,196 370,197.5 369.5,199 366,199 362.5,197.5 359.5,196.5 360.5,193 360,189 357.5,186.5 354.5,185.5Z"/>
<path class="c" fill="#fc8d59" d="M381.2,198.5 382.5,198 382.8,201 381.5,202 381,200Z"/>
<path class="c" fill="#fc8d59" d="M343.5,197 347,196 353,196.5 359.5,196.5 362.5,197.5 366,199 369,199.5 367,202 364.5,204.5 363,207 362,210 361,213 354,216 350,215 348,212 348.5,206 349,201 345,200.5 343.5,199Z"/>
<path class="c" fill="#d7301f" d="M344,200.5 345,200.5 349,201 348.5,206 348,212 344.6,213.6 342.6,209 343,207 344,204Z"/>
<path class="c" fill="#fc8d59" d="M351.5,161 353.5,159 357,158.8 356.5,160.5 359,161.5 358.5,164 360,166.5 362,169.5 364,172.5 366,173.5 365.5,176.5 362.5,177.5 359,178 355,179 351.5,179.8 354.5,177 356.5,176 353.5,175 354.5,172.5 357,171.5 355.5,169.5 354.5,167 352.5,165 351.5,163Z"/>
<path class="c" fill="#fc8d59" d="M348,167.5 350,167 351.5,168 351,169 349,168.5Z"/>
<path class="c" fill="#fdbb84" d="M343.5,175 344.5,170.5 346.5,168.5 348,167.5 349,168.5 351,169 351.5,171 350,173.5 347,175Z"/>
<path class="c" fill="#fdbb84" d="M376,187 378,186 380.5,186.5 383,186 385.5,186.5 384,187.5 385.5,188.5 383,189.5 380.5,190 378,190 377,189.5Z"/>
<path class="c" fill="#fdbb84" d="M385.5,186.5 388,185.5 390,184.5 390,182.5 393,183.5 396,183.5 398,183.5 398.5,184.5 397,187 394,188.5 390.5,188.5 388,187.5 385.5,188.5 384,187.5Z"/>
<path class="c" fill="#fc8d59" d="M397,187 398.5,184.5 400,185 403,184.5 406.5,184 409.5,182.5 411,184.5 408.5,186 406,188.5 403,189.5 399.5,190 397.5,189Z"/>
<path class="c" fill="#ef6548" d="M391.5,189.5 394,188.5 397,187 397.5,189 395.5,190.5 393.5,191.2 391.5,190.8Z"/>
<path class="c" fill="#fc8d59" d="M393.5,191.2 395.5,190.5 397.5,189 399.5,190 403,189.5 404,191.5 401,192 398,191.8 396,192.5 397.5,195 400,197.5 403,199.5 405,200 404,200.5 401,199 398,196.5 395.5,194 394,192.5Z"/>
<path class="c" fill="#fdbb84" d="M396,192.5 398,191.8 401,192 404,191.5 403.5,194 404,196.5 403,198 400,197.5 397.5,195Z"/>
<path class="c" fill="#fc8d59" d="M403,189.5 406,188.5 407.5,191 409,193 411,195 410.5,199 410,197.5 408.5,199 406.5,199.5 405,197.5 404,196.5 403.5,194 404,191.5Z"/>
<path class="c" fill="#fc8d59" d="M403,198 404,196.5 405,197.5 405.5,199 404,200Z"/>
<path class="c" fill="#fdbb84" d="M405,197.5 406.5,199.5 405.5,199Z"/>
<path class="c" fill="#fdd49e" d="M406.5,199.5 408.5,199 410.5,200 411.5,201.5 409,203 407,203Z"/>
<path class="c" fill="#fdd49e" d="M404,200 405.5,199 406.5,199.5 407,203 406.5,205.5 405,206 404.2,203Z"/>
<path class="c" fill="#fdbb84" d="M406.5,205.5 407,203 409,203 411.5,201.5 414.5,202 417.5,201 419,202.5 416.5,203 414,203.5 412,204 413,206 414,209 411,205 414,211 412,214 408,210 406,206 407.5,207.5Z"/>
<path class="c" fill="#fdbb84" d="M414,217 420,217.6 420,219 414.4,218.6Z"/>
<path class="c" fill="#fdd49e" d="M377,189.5 378,190 380.5,190 383,189.5 385.5,188.5 388,187.5 390.5,188.5 391.5,189.5 391.5,190.8 390,191.5 389,193 390.5,196 393,199 396,201.5 399,203.5 401.5,205 400.5,206 398.5,205.5 399,208 398,210 399,208 397,211 396,208 395,205 392,202.5 389.5,200.5 387,198 385.5,195.5 383,194 380.5,194.5 379,195.5 378,194.5 376.5,192Z"/>
<path class="c" fill="#fdd49e" d="M380.5,203.5 382.5,203 383.5,205.5 383,208.5 381.2,208.5 380.5,206Z"/>
<path class="c" fill="#fdd49e" d="M390,210 396,210 395,213 391,212Z"/>
<path class="c" fill="#fff7ec" d="M419,202.5 421.5,201 425,202 429.5,202.5 435,201 440,200.5 445,201 449,202 450.5,199 452.5,200.5 456,202 456.2,202.5 457.5,204.5 459.5,206.5 459,212 453,212.4 445,213 441,215 435,213 429,215 423,213.6 420,211 419,207Z"/>
<path class="c" fill="#fdbb84" d="M433,218 437,217 436,219.6Z"/>
<path class="c" fill="#fc8d59" d="M449.5,197.5 453,198.5 457,199.5 461,201 463,202 460,202.5 456,202 452.5,200.5 450.5,199Z"/>
<path class="c" fill="none" d="M440.9,219.7 442.6,222.6 445,224.4 448.5,223.2 452.6,220.3 453.2,215.6 453.2,212.1M440.3,220.3 442.1,219.1 441.5,222.6 440.3,223.2M441.5,223.2 445,224.4M448.5,223.2 449.1,225.6 446.2,227.4 447.9,229.7 444.4,232.6 440.9,233.8 440.1,232.6 440.9,227.9 441.5,223.2M459.1,210.3 460.3,214.4 463.2,217.9 462.6,220.9 465,223.8 468.5,227.9 470.3,232.1 467.4,232.6 466.2,233.8 462.1,233.2 456.8,229.7 451.5,226.2 449.1,225.6M467.4,232.6 468.5,235 470.9,234.4M460,266 461.5,264.5 467,264 470.5,265.5 473,262.5 477,261 481,260.2 483.5,266.5M481,260.2 487,258 488.5,252 487.5,251.5 482.5,250 479.5,248.5M488.5,252 489,245 490,242.5M495.6,216.8 496.2,222.1 498.5,227.9 500.3,230.3 498.5,233.2 500.3,236.2 503.8,239.7 501.5,242.1 500.3,244.4M498.5,233.2 502.6,233.2 507.4,232.1 509.7,229.1 512.6,227.4 515.6,224.4 516.8,220.3 519.1,216.8 522.6,215.6"/>
</g>
</g>
<g id="legend">
<text class="lg" x="122.5" y="510" textLength="47" lengthAdjust="spacingAndGlyphs">No data</text>
<rect x="98.5" y="517.5" width="48" height="10.8" fill="url(#hatch)" stroke="#ccc" stroke-width="0.8"/>
<line x1="122.5" y1="514" x2="122.5" y2="517.5" stroke="#bbb" stroke-width="0.8"/>
<g stroke="#000" stroke-opacity="0.18" stroke-width="0.8">
<rect x="166.5" y="517.5" width="58.5" height="10.8" fill="#fff7ec"/>
<rect x="225" y="517.5" width="58.5" height="10.8" fill="#fee8c8"/>
<rect x="283.5" y="517.5" width="58.5" height="10.8" fill="#fdd49e"/>
<rect x="342" y="517.5" width="58.5" height="10.8" fill="#fdbb84"/>
<rect x="400.5" y="517.5" width="58.5" height="10.8" fill="#fc8d59"/>
<rect x="459" y="517.5" width="58.5" height="10.8" fill="#ef6548"/>
<rect x="517.5" y="517.5" width="58.5" height="10.8" fill="#d7301f"/>
<rect x="576" y="517.5" width="58.5" height="10.8" fill="#b30000"/>
<rect x="634.5" y="517.5" width="58.5" height="10.8" fill="#990000"/>
<rect x="693" y="517.5" width="58.5" height="10.8" fill="#7f0000"/>
</g>
<g stroke="#000" stroke-opacity="0.28" stroke-width="0.7">
<line x1="166.5" y1="514" x2="166.5" y2="528.3"/>
<line x1="225" y1="514" x2="225" y2="528.3"/>
<line x1="283.5" y1="514" x2="283.5" y2="528.3"/>
<line x1="342" y1="514" x2="342" y2="528.3"/>
<line x1="400.5" y1="514" x2="400.5" y2="528.3"/>
<line x1="459" y1="514" x2="459" y2="528.3"/>
<line x1="517.5" y1="514" x2="517.5" y2="528.3"/>
<line x1="576" y1="514" x2="576" y2="528.3"/>
<line x1="634.5" y1="514" x2="634.5" y2="528.3"/>
<line x1="693" y1="514" x2="693" y2="528.3"/>
<line x1="751.5" y1="514" x2="751.5" y2="528.3"/>
</g>
<text class="lg" x="166.5" y="510">0%</text>
<text class="lg" x="225" y="510">1%</text>
<text class="lg" x="283.5" y="510">2%</text>
<text class="lg" x="342" y="510">3%</text>
<text class="lg" x="400.5" y="510">4%</text>
<text class="lg" x="459" y="510">5%</text>
<text class="lg" x="517.5" y="510">6%</text>
<text class="lg" x="576" y="510">7%</text>
<text class="lg" x="634.5" y="510">8%</text>
<text class="lg" x="693" y="510">9%</text>
<text class="lg" x="751.5" y="510">10%</text>
</g>
<g id="footer">
<text class="ft b" x="16" y="560.5" textLength="72" lengthAdjust="spacingAndGlyphs">Data source:</text>
<text class="ft" x="92" y="560.5" textLength="293" lengthAdjust="spacingAndGlyphs">International Agency for Research on Cancer (2021)</text>
<text class="ft" x="624.6" y="560.5" textLength="205.3" lengthAdjust="spacingAndGlyphs">OurWorldinData.org/cancer | CC BY</text>
<text class="ft b" x="16" y="580.7" textLength="32.3" lengthAdjust="spacingAndGlyphs">Note:</text>
<text class="ft" x="52.5" y="580.7" textLength="691.5" lengthAdjust="spacingAndGlyphs">Non-melanoma skin cancers deaths are excluded due to potentially incomplete records and inconsistent registry practices.</text>
</g>
</svg>
</body>
</html>
